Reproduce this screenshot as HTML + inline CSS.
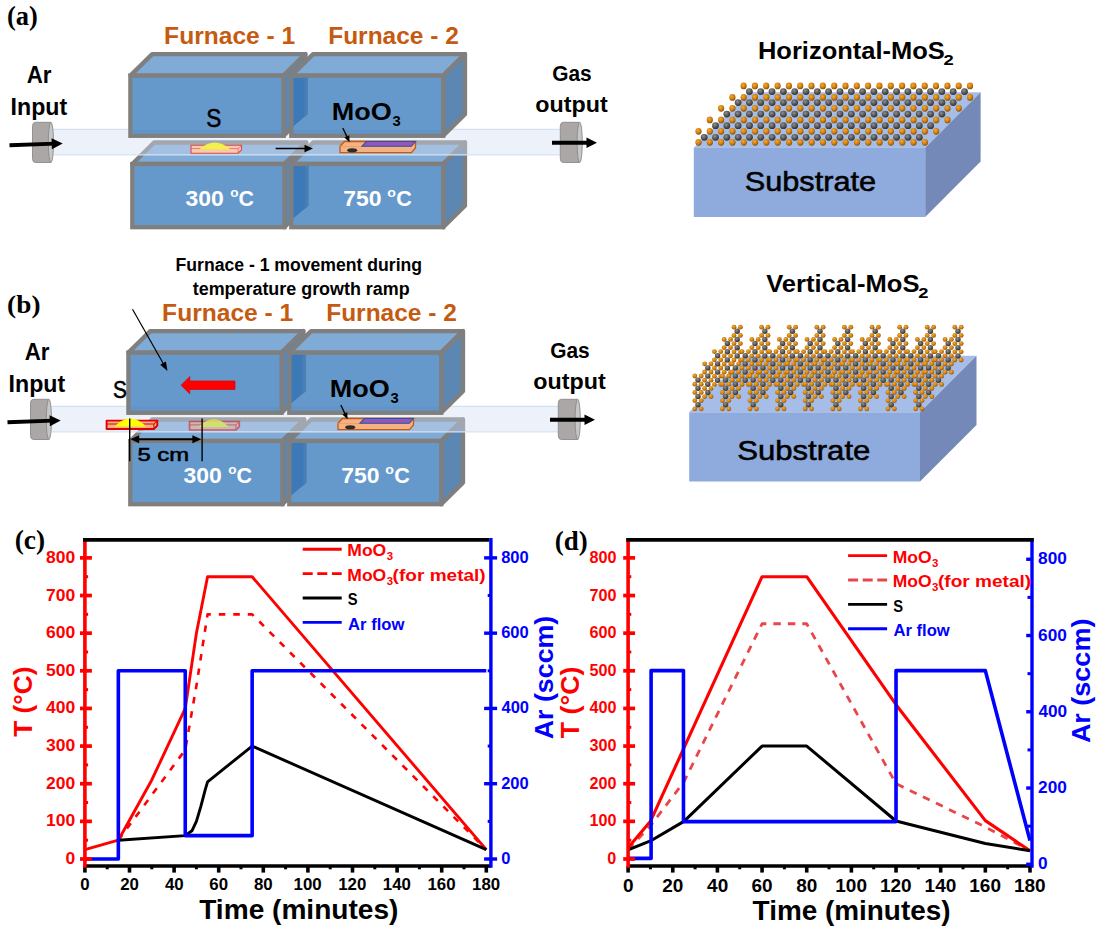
<!DOCTYPE html>
<html><head><meta charset="utf-8"><style>
html,body{margin:0;padding:0;background:#fff;overflow:hidden;}
svg{display:block;}
</style></head><body>
<svg width="1105" height="930" viewBox="0 0 1105 930">
<rect width="1105" height="930" fill="#fff"/>
<defs>
<radialGradient id="gO" cx="0.4" cy="0.35" r="0.65"><stop offset="0" stop-color="#f7aa2c"/><stop offset="0.6" stop-color="#cf7e0e"/><stop offset="1" stop-color="#8a5206"/></radialGradient>
<radialGradient id="gG" cx="0.4" cy="0.35" r="0.65"><stop offset="0" stop-color="#909090"/><stop offset="0.6" stop-color="#555"/><stop offset="1" stop-color="#303030"/></radialGradient>
</defs>
<polygon points="132.3,164 154.10000000000002,142.5 306.2,142.5 284.4,164" fill="#80abd6" stroke="#7f7f7f" stroke-width="4.3" stroke-linejoin="round"/>
<polygon points="284.4,164 306.2,142.5 306.2,205.7 284.4,227.2" fill="#5b87b2" stroke="#7f7f7f" stroke-width="4.3" stroke-linejoin="round"/>
<rect x="132.3" y="164" width="152.10" height="63.20" fill="#6699cb" stroke="#7f7f7f" stroke-width="4.3"/>
<polygon points="291.3,164 313.1,142.5 465.0,142.5 443.2,164" fill="#80abd6" stroke="#7f7f7f" stroke-width="4.3" stroke-linejoin="round"/>
<polygon points="443.2,164 465.0,142.5 465.0,205.7 443.2,227.2" fill="#5b87b2" stroke="#7f7f7f" stroke-width="4.3" stroke-linejoin="round"/>
<rect x="291.3" y="164" width="151.90" height="63.20" fill="#6699cb" stroke="#7f7f7f" stroke-width="4.3"/>
<polygon points="293.40,166.10 308.40,166.10 308.40,205.70 293.40,218.32" fill="#3d79b6"/>
<polygon points="305.40,166.10 308.40,166.10 308.40,205.70 305.40,208.70" fill="#4a7fb5"/>
<rect x="50" y="129.3" width="512" height="25.5" fill="#d4def2" fill-opacity="0.42"/>
<line x1="50" y1="129.3" x2="562" y2="129.3" stroke="#c9dbf0" stroke-width="1"/>
<line x1="50" y1="154.8" x2="562" y2="154.8" stroke="#d6e4f4" stroke-width="1.3"/>
<polygon points="340,146.3 344.5,141.5 415.5,141.5 415.5,148 411.5,152.7 340,152.7" fill="#f4b183" stroke="#c55a11" stroke-width="1.3"/>
<line x1="340" y1="146.5" x2="411.5" y2="146.5" stroke="#e9955a" stroke-width="0.6"/>
<polygon points="361.8,146.3 366.3,141.5 415.5,141.5 411.3,146.3" fill="#9356bd" stroke="#2f5597" stroke-width="1.1"/>
<ellipse cx="352.2" cy="150.2" rx="5" ry="2" fill="#2b2b2b"/>
<polygon points="130.4,75.6 152.20000000000002,54.099999999999994 305.40000000000003,54.099999999999994 283.6,75.6" fill="#80abd6" stroke="#7f7f7f" stroke-width="4.3" stroke-linejoin="round"/>
<polygon points="283.6,75.6 305.40000000000003,54.099999999999994 305.40000000000003,114.30000000000001 283.6,135.8" fill="#5b87b2" stroke="#7f7f7f" stroke-width="4.3" stroke-linejoin="round"/>
<rect x="130.4" y="75.6" width="153.20" height="60.20" fill="#6699cb" stroke="#7f7f7f" stroke-width="4.3"/>
<polygon points="291.3,75.6 313.1,54.099999999999994 465.0,54.099999999999994 443.2,75.6" fill="#80abd6" stroke="#7f7f7f" stroke-width="4.3" stroke-linejoin="round"/>
<polygon points="443.2,75.6 465.0,54.099999999999994 465.0,114.30000000000001 443.2,135.8" fill="#5b87b2" stroke="#7f7f7f" stroke-width="4.3" stroke-linejoin="round"/>
<rect x="291.3" y="75.6" width="151.90" height="60.20" fill="#6699cb" stroke="#7f7f7f" stroke-width="4.3"/>
<polygon points="293.40,77.70 307.60,77.70 307.60,114.30 293.40,126.13" fill="#3d79b6"/>
<polygon points="304.60,77.70 307.60,77.70 307.60,114.30 304.60,117.30" fill="#4a7fb5"/>
<rect x="132.5" y="129.5" width="149.0" height="4.1" fill="#5a90c8" fill-opacity="0.35"/>
<rect x="293.4" y="129.5" width="147.7" height="4.1" fill="#5a90c8" fill-opacity="0.35"/>
<path d="M35.5,122.3 L50.9,122.3 L50.9,162.5 L35.5,162.5 Q32.5,162.5 32.5,158.5 L32.5,126.3 Q32.5,122.3 35.5,122.3 Z" fill="#aba7a7" stroke="#8a8a8a" stroke-width="0.9"/>
<ellipse cx="50.9" cy="142.4" rx="2.6" ry="20.1" fill="#c8c6c6" stroke="#8a8a8a" stroke-width="0.9"/>
<path d="M563.3,122.3 L579.6999999999999,122.3 L579.6999999999999,162.5 L563.3,162.5 Q560.3,162.5 560.3,158.5 L560.3,126.3 Q560.3,122.3 563.3,122.3 Z" fill="#aba7a7" stroke="#8a8a8a" stroke-width="0.9"/>
<ellipse cx="579.6999999999999" cy="142.4" rx="2.6" ry="20.1" fill="#c8c6c6" stroke="#8a8a8a" stroke-width="0.9"/>
<line x1="9.50" y1="145.20" x2="55.00" y2="143.66" stroke="#000" stroke-width="3.9"/>
<polygon points="62.70,143.40 51.89,149.27 51.52,138.28" fill="#000"/>
<line x1="552.00" y1="142.80" x2="589.65" y2="142.80" stroke="#000" stroke-width="3.9"/>
<polygon points="597.00,142.80 586.50,148.05 586.50,137.55" fill="#000"/>
<text x="164.13" y="43.80" font-family="'Liberation Sans', sans-serif" font-size="23" font-weight="bold" fill="#c55a11" textLength="131.12" lengthAdjust="spacingAndGlyphs">Furnace - 1</text>
<text x="328.23" y="43.80" font-family="'Liberation Sans', sans-serif" font-size="23" font-weight="bold" fill="#c55a11" textLength="130.55" lengthAdjust="spacingAndGlyphs">Furnace - 2</text>
<text x="26.75" y="82.80" font-family="'Liberation Sans', sans-serif" font-size="23" font-weight="bold" fill="#000" textLength="24.75" lengthAdjust="spacingAndGlyphs">Ar</text>
<text x="10.61" y="115.10" font-family="'Liberation Sans', sans-serif" font-size="23" font-weight="bold" fill="#000" textLength="56.56" lengthAdjust="spacingAndGlyphs">Input</text>
<text x="552.26" y="81.30" font-family="'Liberation Sans', sans-serif" font-size="21.5" font-weight="bold" fill="#000" textLength="39.49" lengthAdjust="spacingAndGlyphs">Gas</text>
<text x="535.30" y="112.20" font-family="'Liberation Sans', sans-serif" font-size="21.5" font-weight="bold" fill="#000" textLength="72.37" lengthAdjust="spacingAndGlyphs">output</text>
<text x="331.78" y="119.90" font-family="'Liberation Sans', sans-serif" font-size="24.5" font-weight="bold" fill="#000" textLength="59.94" lengthAdjust="spacingAndGlyphs">MoO</text>
<text x="392.40" y="125.80" font-family="'Liberation Sans', sans-serif" font-size="14" font-weight="bold" fill="#000" textLength="8.23" lengthAdjust="spacingAndGlyphs">3</text>
<line x1="342.80" y1="128.00" x2="347.63" y2="138.10" stroke="#000" stroke-width="1.3"/>
<polygon points="349.60,142.20 344.31,137.53 349.27,135.15" fill="#000"/>
<text x="185.54" y="205.60" font-family="'Liberation Sans', sans-serif" font-size="22.5" font-weight="bold" fill="#fff" textLength="38.29" lengthAdjust="spacingAndGlyphs">300</text>
<text x="230.29" y="196.60" font-family="'Liberation Sans', sans-serif" font-size="13" font-weight="bold" fill="#fff" textLength="8.33" lengthAdjust="spacingAndGlyphs">o</text>
<text x="238.55" y="205.60" font-family="'Liberation Sans', sans-serif" font-size="22.5" font-weight="bold" fill="#fff" textLength="15.43" lengthAdjust="spacingAndGlyphs">C</text>
<text x="343.18" y="205.60" font-family="'Liberation Sans', sans-serif" font-size="22.5" font-weight="bold" fill="#fff" textLength="38.25" lengthAdjust="spacingAndGlyphs">750</text>
<text x="387.17" y="196.60" font-family="'Liberation Sans', sans-serif" font-size="13" font-weight="bold" fill="#fff" textLength="8.66" lengthAdjust="spacingAndGlyphs">o</text>
<text x="396.14" y="205.60" font-family="'Liberation Sans', sans-serif" font-size="22.5" font-weight="bold" fill="#fff" textLength="15.54" lengthAdjust="spacingAndGlyphs">C</text>
<g transform="translate(0,25) scale(1,1.08) translate(0,-25)">
<text x="6.94" y="25.00" font-family="'Liberation Serif', serif" font-size="25" font-weight="bold" fill="#000" textLength="30.79" lengthAdjust="spacingAndGlyphs">(a)</text>
</g>
<text x="206.30" y="126.50" font-family="'Liberation Sans', sans-serif" font-size="25" font-weight="normal" fill="#000" textLength="15.04" lengthAdjust="spacingAndGlyphs" stroke="#000" stroke-width="0.55">S</text>
<polygon points="191,145.3 241.5,145.3 241.5,149.89999999999998 238.2,153.2 191,153.2" fill="#f8cbad" stroke="#e0474c" stroke-width="1.1" stroke-linejoin="round"/>
<polyline points="191,148.60000000000002 238.2,148.60000000000002 241.5,145.3" fill="none" stroke="#e0474c" stroke-width="0.6050000000000001"/>
<line x1="238.2" y1="148.60000000000002" x2="238.2" y2="153.2" stroke="#e0474c" stroke-width="0.6050000000000001"/>
<path d="M199,149.6 Q214.8,135.5 230.7,149.6 Z" fill="#f2f04a"/>
<line x1="275.60" y1="148.50" x2="307.05" y2="148.50" stroke="#000" stroke-width="1.7"/>
<polygon points="313.00,148.50 304.50,152.25 304.50,144.75" fill="#000"/>
<polygon points="130.3,441 152.10000000000002,419.5 304.2,419.5 282.4,441" fill="#80abd6" stroke="#7f7f7f" stroke-width="4.3" stroke-linejoin="round"/>
<polygon points="282.4,441 304.2,419.5 304.2,482.7 282.4,504.2" fill="#5b87b2" stroke="#7f7f7f" stroke-width="4.3" stroke-linejoin="round"/>
<rect x="130.3" y="441" width="152.10" height="63.20" fill="#6699cb" stroke="#7f7f7f" stroke-width="4.3"/>
<polygon points="289.3,441 311.1,419.5 463.0,419.5 441.2,441" fill="#80abd6" stroke="#7f7f7f" stroke-width="4.3" stroke-linejoin="round"/>
<polygon points="441.2,441 463.0,419.5 463.0,482.7 441.2,504.2" fill="#5b87b2" stroke="#7f7f7f" stroke-width="4.3" stroke-linejoin="round"/>
<rect x="289.3" y="441" width="151.90" height="63.20" fill="#6699cb" stroke="#7f7f7f" stroke-width="4.3"/>
<polygon points="291.40,443.10 306.40,443.10 306.40,482.70 291.40,495.32" fill="#3d79b6"/>
<polygon points="303.40,443.10 306.40,443.10 306.40,482.70 303.40,485.70" fill="#4a7fb5"/>
<rect x="48" y="406.3" width="512" height="25.5" fill="#d4def2" fill-opacity="0.42"/>
<line x1="48" y1="406.3" x2="560" y2="406.3" stroke="#c9dbf0" stroke-width="1"/>
<line x1="48" y1="431.8" x2="560" y2="431.8" stroke="#d6e4f4" stroke-width="1.3"/>
<polygon points="338,423.3 342.5,418.5 413.5,418.5 413.5,425 409.5,429.7 338,429.7" fill="#f4b183" stroke="#c55a11" stroke-width="1.3"/>
<line x1="338" y1="423.5" x2="409.5" y2="423.5" stroke="#e9955a" stroke-width="0.6"/>
<polygon points="359.8,423.3 364.3,418.5 413.5,418.5 409.3,423.3" fill="#9356bd" stroke="#2f5597" stroke-width="1.1"/>
<ellipse cx="350.2" cy="427.2" rx="5" ry="2" fill="#2b2b2b"/>
<polygon points="128.4,352.6 150.20000000000002,331.1 303.40000000000003,331.1 281.6,352.6" fill="#80abd6" stroke="#7f7f7f" stroke-width="4.3" stroke-linejoin="round"/>
<polygon points="281.6,352.6 303.40000000000003,331.1 303.40000000000003,391.3 281.6,412.8" fill="#5b87b2" stroke="#7f7f7f" stroke-width="4.3" stroke-linejoin="round"/>
<rect x="128.4" y="352.6" width="153.20" height="60.20" fill="#6699cb" stroke="#7f7f7f" stroke-width="4.3"/>
<polygon points="289.3,352.6 311.1,331.1 463.0,331.1 441.2,352.6" fill="#80abd6" stroke="#7f7f7f" stroke-width="4.3" stroke-linejoin="round"/>
<polygon points="441.2,352.6 463.0,331.1 463.0,391.3 441.2,412.8" fill="#5b87b2" stroke="#7f7f7f" stroke-width="4.3" stroke-linejoin="round"/>
<rect x="289.3" y="352.6" width="151.90" height="60.20" fill="#6699cb" stroke="#7f7f7f" stroke-width="4.3"/>
<polygon points="291.40,354.70 305.60,354.70 305.60,391.30 291.40,403.13" fill="#3d79b6"/>
<polygon points="302.60,354.70 305.60,354.70 305.60,391.30 302.60,394.30" fill="#4a7fb5"/>
<rect x="130.5" y="406.5" width="149.0" height="4.1" fill="#5a90c8" fill-opacity="0.35"/>
<rect x="291.4" y="406.5" width="147.7" height="4.1" fill="#5a90c8" fill-opacity="0.35"/>
<path d="M33.5,399.3 L48.9,399.3 L48.9,439.5 L33.5,439.5 Q30.5,439.5 30.5,435.5 L30.5,403.3 Q30.5,399.3 33.5,399.3 Z" fill="#aba7a7" stroke="#8a8a8a" stroke-width="0.9"/>
<ellipse cx="48.9" cy="419.40000000000003" rx="2.6" ry="20.1" fill="#c8c6c6" stroke="#8a8a8a" stroke-width="0.9"/>
<path d="M561.3,399.3 L577.6999999999999,399.3 L577.6999999999999,439.5 L561.3,439.5 Q558.3,439.5 558.3,435.5 L558.3,403.3 Q558.3,399.3 561.3,399.3 Z" fill="#aba7a7" stroke="#8a8a8a" stroke-width="0.9"/>
<ellipse cx="577.6999999999999" cy="419.40000000000003" rx="2.6" ry="20.1" fill="#c8c6c6" stroke="#8a8a8a" stroke-width="0.9"/>
<line x1="7.50" y1="422.20" x2="53.00" y2="420.66" stroke="#000" stroke-width="3.9"/>
<polygon points="60.70,420.40 49.89,426.27 49.52,415.28" fill="#000"/>
<line x1="550.00" y1="419.80" x2="587.65" y2="419.80" stroke="#000" stroke-width="3.9"/>
<polygon points="595.00,419.80 584.50,425.05 584.50,414.55" fill="#000"/>
<text x="162.13" y="320.80" font-family="'Liberation Sans', sans-serif" font-size="23" font-weight="bold" fill="#c55a11" textLength="131.12" lengthAdjust="spacingAndGlyphs">Furnace - 1</text>
<text x="326.23" y="320.80" font-family="'Liberation Sans', sans-serif" font-size="23" font-weight="bold" fill="#c55a11" textLength="130.55" lengthAdjust="spacingAndGlyphs">Furnace - 2</text>
<text x="24.75" y="359.80" font-family="'Liberation Sans', sans-serif" font-size="23" font-weight="bold" fill="#000" textLength="24.75" lengthAdjust="spacingAndGlyphs">Ar</text>
<text x="8.61" y="392.10" font-family="'Liberation Sans', sans-serif" font-size="23" font-weight="bold" fill="#000" textLength="56.56" lengthAdjust="spacingAndGlyphs">Input</text>
<text x="550.26" y="358.30" font-family="'Liberation Sans', sans-serif" font-size="21.5" font-weight="bold" fill="#000" textLength="39.49" lengthAdjust="spacingAndGlyphs">Gas</text>
<text x="533.30" y="389.20" font-family="'Liberation Sans', sans-serif" font-size="21.5" font-weight="bold" fill="#000" textLength="72.37" lengthAdjust="spacingAndGlyphs">output</text>
<text x="329.78" y="396.90" font-family="'Liberation Sans', sans-serif" font-size="24.5" font-weight="bold" fill="#000" textLength="59.94" lengthAdjust="spacingAndGlyphs">MoO</text>
<text x="390.40" y="402.80" font-family="'Liberation Sans', sans-serif" font-size="14" font-weight="bold" fill="#000" textLength="8.23" lengthAdjust="spacingAndGlyphs">3</text>
<line x1="340.80" y1="405.00" x2="345.63" y2="415.10" stroke="#000" stroke-width="1.3"/>
<polygon points="347.60,419.20 342.31,414.53 347.27,412.15" fill="#000"/>
<text x="183.54" y="482.60" font-family="'Liberation Sans', sans-serif" font-size="22.5" font-weight="bold" fill="#fff" textLength="38.29" lengthAdjust="spacingAndGlyphs">300</text>
<text x="228.29" y="473.60" font-family="'Liberation Sans', sans-serif" font-size="13" font-weight="bold" fill="#fff" textLength="8.33" lengthAdjust="spacingAndGlyphs">o</text>
<text x="236.55" y="482.60" font-family="'Liberation Sans', sans-serif" font-size="22.5" font-weight="bold" fill="#fff" textLength="15.43" lengthAdjust="spacingAndGlyphs">C</text>
<text x="341.18" y="482.60" font-family="'Liberation Sans', sans-serif" font-size="22.5" font-weight="bold" fill="#fff" textLength="38.25" lengthAdjust="spacingAndGlyphs">750</text>
<text x="385.17" y="473.60" font-family="'Liberation Sans', sans-serif" font-size="13" font-weight="bold" fill="#fff" textLength="8.66" lengthAdjust="spacingAndGlyphs">o</text>
<text x="394.14" y="482.60" font-family="'Liberation Sans', sans-serif" font-size="22.5" font-weight="bold" fill="#fff" textLength="15.54" lengthAdjust="spacingAndGlyphs">C</text>
<g transform="translate(0,313) scale(1,1.04) translate(0,-313)">
<text x="7.11" y="313.00" font-family="'Liberation Serif', serif" font-size="25" font-weight="bold" fill="#000" textLength="33.37" lengthAdjust="spacingAndGlyphs">(b)</text>
</g>
<text x="175.54" y="271.20" font-family="'Liberation Sans', sans-serif" font-size="18" font-weight="bold" fill="#000" textLength="246.53" lengthAdjust="spacingAndGlyphs">Furnace - 1 movement during</text>
<text x="192.72" y="294.60" font-family="'Liberation Sans', sans-serif" font-size="18" font-weight="bold" fill="#000" textLength="216.91" lengthAdjust="spacingAndGlyphs">temperature growth ramp</text>
<text x="112.97" y="398.00" font-family="'Liberation Sans', sans-serif" font-size="23" font-weight="normal" fill="#000" textLength="13.91" lengthAdjust="spacingAndGlyphs" stroke="#000" stroke-width="0.55">S</text>
<line x1="132.50" y1="309.30" x2="164.39" y2="365.52" stroke="#000" stroke-width="1.2"/>
<polygon points="167.50,371.00 160.23,364.78 165.89,361.57" fill="#000"/>
<polygon points="181.1,385.2 189.8,376.5 189.8,380.9 235,380.9 235,389.5 189.8,389.5 189.8,393.9" fill="#ff0000" stroke="#d00000" stroke-width="0.6"/>
<polygon points="106.6,420.6 157.3,420.6 157.3,425.6 153.9,429 106.6,429" fill="#f4b183" stroke="#e00000" stroke-width="1.9" stroke-linejoin="round"/>
<polyline points="106.6,424.0 153.9,424.0 157.3,420.6" fill="none" stroke="#e00000" stroke-width="1.045"/>
<line x1="153.9" y1="424.0" x2="153.9" y2="429" stroke="#e00000" stroke-width="1.045"/>
<path d="M114.5,426.5 Q130.4,410.5 146.3,426.5 Z" fill="#ffff00"/>
<g opacity="0.5">
<polygon points="189.5,421.5 239.3,421.5 239.3,426.6 235.9,430 189.5,430" fill="#f4b183" stroke="#e00000" stroke-width="1.7" stroke-linejoin="round"/>
<polyline points="189.5,424.9 235.9,424.9 239.3,421.5" fill="none" stroke="#e00000" stroke-width="0.935"/>
<line x1="235.9" y1="424.9" x2="235.9" y2="430" stroke="#e00000" stroke-width="0.935"/>
<path d="M198.5,427 Q213.7,411.2 228.9,427 Z" fill="#ffff00"/></g>
<line x1="129.7" y1="418.5" x2="129.7" y2="461.2" stroke="#000" stroke-width="1.4"/>
<line x1="202.1" y1="418.5" x2="202.1" y2="461.2" stroke="#000" stroke-width="1.4"/>
<line x1="136" y1="439.2" x2="194" y2="439.2" stroke="#000" stroke-width="2"/>
<polygon points="130.4,439.2 139.2,435.2 139.2,443.2" fill="#000"/>
<polygon points="201.2,439.2 192.4,435.2 192.4,443.2" fill="#000"/>
<text x="137.45" y="461.20" font-family="'Liberation Sans', sans-serif" font-size="19" font-weight="normal" fill="#000" textLength="51.66" lengthAdjust="spacingAndGlyphs" stroke="#000" stroke-width="0.55">5 cm</text>
<text x="757.97" y="58.80" font-family="'Liberation Sans', sans-serif" font-size="23.5" font-weight="bold" fill="#000" textLength="186.77" lengthAdjust="spacingAndGlyphs">Horizontal-MoS</text>
<text x="943.45" y="64.50" font-family="'Liberation Sans', sans-serif" font-size="14" font-weight="bold" fill="#000" textLength="10.22" lengthAdjust="spacingAndGlyphs">2</text>
<polygon points="693.8,147.7 749.1999999999999,92.29999999999998 980.6,92.29999999999998 925.2,147.7" fill="#a6bde7"/>
<polygon points="925.2,147.7 980.6,92.29999999999998 980.6,161.6 925.2,217" fill="#7589b9"/>
<rect x="693.8" y="147.7" width="231.40" height="69.30" fill="#8faadc"/>
<text x="744.77" y="190.80" font-family="'Liberation Sans', sans-serif" font-size="28" font-weight="normal" fill="#000" textLength="131.34" lengthAdjust="spacingAndGlyphs" stroke="#000" stroke-width="0.55">Substrate</text>
<circle cx="749.4" cy="91.6" r="3.4" fill="url(#gG)"/>
<circle cx="760.7" cy="91.6" r="3.4" fill="url(#gG)"/>
<circle cx="772.0" cy="91.6" r="3.4" fill="url(#gG)"/>
<circle cx="783.4" cy="91.6" r="3.4" fill="url(#gG)"/>
<circle cx="794.7" cy="91.6" r="3.4" fill="url(#gG)"/>
<circle cx="806.0" cy="91.6" r="3.4" fill="url(#gG)"/>
<circle cx="817.3" cy="91.6" r="3.4" fill="url(#gG)"/>
<circle cx="828.6" cy="91.6" r="3.4" fill="url(#gG)"/>
<circle cx="840.0" cy="91.6" r="3.4" fill="url(#gG)"/>
<circle cx="851.3" cy="91.6" r="3.4" fill="url(#gG)"/>
<circle cx="862.6" cy="91.6" r="3.4" fill="url(#gG)"/>
<circle cx="873.9" cy="91.6" r="3.4" fill="url(#gG)"/>
<circle cx="885.2" cy="91.6" r="3.4" fill="url(#gG)"/>
<circle cx="896.6" cy="91.6" r="3.4" fill="url(#gG)"/>
<circle cx="907.9" cy="91.6" r="3.4" fill="url(#gG)"/>
<circle cx="919.2" cy="91.6" r="3.4" fill="url(#gG)"/>
<circle cx="930.5" cy="91.6" r="3.4" fill="url(#gG)"/>
<circle cx="941.8" cy="91.6" r="3.4" fill="url(#gG)"/>
<circle cx="953.2" cy="91.6" r="3.4" fill="url(#gG)"/>
<circle cx="964.5" cy="91.6" r="3.4" fill="url(#gG)"/>
<ellipse cx="743.6" cy="85.9" rx="3.1" ry="3.35" fill="url(#gO)"/>
<ellipse cx="754.9" cy="85.9" rx="3.1" ry="3.35" fill="url(#gO)"/>
<ellipse cx="766.2" cy="85.9" rx="3.1" ry="3.35" fill="url(#gO)"/>
<ellipse cx="777.6" cy="85.9" rx="3.1" ry="3.35" fill="url(#gO)"/>
<ellipse cx="788.9" cy="85.9" rx="3.1" ry="3.35" fill="url(#gO)"/>
<ellipse cx="800.2" cy="85.9" rx="3.1" ry="3.35" fill="url(#gO)"/>
<ellipse cx="811.5" cy="85.9" rx="3.1" ry="3.35" fill="url(#gO)"/>
<ellipse cx="822.8" cy="85.9" rx="3.1" ry="3.35" fill="url(#gO)"/>
<ellipse cx="834.2" cy="85.9" rx="3.1" ry="3.35" fill="url(#gO)"/>
<ellipse cx="845.5" cy="85.9" rx="3.1" ry="3.35" fill="url(#gO)"/>
<ellipse cx="856.8" cy="85.9" rx="3.1" ry="3.35" fill="url(#gO)"/>
<ellipse cx="868.1" cy="85.9" rx="3.1" ry="3.35" fill="url(#gO)"/>
<ellipse cx="879.4" cy="85.9" rx="3.1" ry="3.35" fill="url(#gO)"/>
<ellipse cx="890.8" cy="85.9" rx="3.1" ry="3.35" fill="url(#gO)"/>
<ellipse cx="902.1" cy="85.9" rx="3.1" ry="3.35" fill="url(#gO)"/>
<ellipse cx="913.4" cy="85.9" rx="3.1" ry="3.35" fill="url(#gO)"/>
<ellipse cx="924.7" cy="85.9" rx="3.1" ry="3.35" fill="url(#gO)"/>
<ellipse cx="936.0" cy="85.9" rx="3.1" ry="3.35" fill="url(#gO)"/>
<ellipse cx="947.4" cy="85.9" rx="3.1" ry="3.35" fill="url(#gO)"/>
<ellipse cx="958.7" cy="85.9" rx="3.1" ry="3.35" fill="url(#gO)"/>
<ellipse cx="970.0" cy="85.9" rx="3.1" ry="3.35" fill="url(#gO)"/>
<circle cx="738.1" cy="102.6" r="3.4" fill="url(#gG)"/>
<circle cx="749.4" cy="102.6" r="3.4" fill="url(#gG)"/>
<circle cx="760.7" cy="102.6" r="3.4" fill="url(#gG)"/>
<circle cx="772.1" cy="102.6" r="3.4" fill="url(#gG)"/>
<circle cx="783.4" cy="102.6" r="3.4" fill="url(#gG)"/>
<circle cx="794.7" cy="102.6" r="3.4" fill="url(#gG)"/>
<circle cx="806.0" cy="102.6" r="3.4" fill="url(#gG)"/>
<circle cx="817.3" cy="102.6" r="3.4" fill="url(#gG)"/>
<circle cx="828.7" cy="102.6" r="3.4" fill="url(#gG)"/>
<circle cx="840.0" cy="102.6" r="3.4" fill="url(#gG)"/>
<circle cx="851.3" cy="102.6" r="3.4" fill="url(#gG)"/>
<circle cx="862.6" cy="102.6" r="3.4" fill="url(#gG)"/>
<circle cx="873.9" cy="102.6" r="3.4" fill="url(#gG)"/>
<circle cx="885.3" cy="102.6" r="3.4" fill="url(#gG)"/>
<circle cx="896.6" cy="102.6" r="3.4" fill="url(#gG)"/>
<circle cx="907.9" cy="102.6" r="3.4" fill="url(#gG)"/>
<circle cx="919.2" cy="102.6" r="3.4" fill="url(#gG)"/>
<circle cx="930.5" cy="102.6" r="3.4" fill="url(#gG)"/>
<circle cx="941.9" cy="102.6" r="3.4" fill="url(#gG)"/>
<circle cx="953.2" cy="102.6" r="3.4" fill="url(#gG)"/>
<ellipse cx="732.4" cy="97.4" rx="3.1" ry="3.35" fill="url(#gO)"/>
<ellipse cx="743.7" cy="97.4" rx="3.1" ry="3.35" fill="url(#gO)"/>
<ellipse cx="755.0" cy="97.4" rx="3.1" ry="3.35" fill="url(#gO)"/>
<ellipse cx="766.4" cy="97.4" rx="3.1" ry="3.35" fill="url(#gO)"/>
<ellipse cx="777.7" cy="97.4" rx="3.1" ry="3.35" fill="url(#gO)"/>
<ellipse cx="789.0" cy="97.4" rx="3.1" ry="3.35" fill="url(#gO)"/>
<ellipse cx="800.3" cy="97.4" rx="3.1" ry="3.35" fill="url(#gO)"/>
<ellipse cx="811.6" cy="97.4" rx="3.1" ry="3.35" fill="url(#gO)"/>
<ellipse cx="823.0" cy="97.4" rx="3.1" ry="3.35" fill="url(#gO)"/>
<ellipse cx="834.3" cy="97.4" rx="3.1" ry="3.35" fill="url(#gO)"/>
<ellipse cx="845.6" cy="97.4" rx="3.1" ry="3.35" fill="url(#gO)"/>
<ellipse cx="856.9" cy="97.4" rx="3.1" ry="3.35" fill="url(#gO)"/>
<ellipse cx="868.2" cy="97.4" rx="3.1" ry="3.35" fill="url(#gO)"/>
<ellipse cx="879.6" cy="97.4" rx="3.1" ry="3.35" fill="url(#gO)"/>
<ellipse cx="890.9" cy="97.4" rx="3.1" ry="3.35" fill="url(#gO)"/>
<ellipse cx="902.2" cy="97.4" rx="3.1" ry="3.35" fill="url(#gO)"/>
<ellipse cx="913.5" cy="97.4" rx="3.1" ry="3.35" fill="url(#gO)"/>
<ellipse cx="924.8" cy="97.4" rx="3.1" ry="3.35" fill="url(#gO)"/>
<ellipse cx="936.2" cy="97.4" rx="3.1" ry="3.35" fill="url(#gO)"/>
<ellipse cx="947.5" cy="97.4" rx="3.1" ry="3.35" fill="url(#gO)"/>
<ellipse cx="958.8" cy="97.4" rx="3.1" ry="3.35" fill="url(#gO)"/>
<ellipse cx="970.1" cy="97.4" rx="3.1" ry="3.35" fill="url(#gO)"/>
<circle cx="726.8" cy="114.1" r="3.4" fill="url(#gG)"/>
<circle cx="738.1" cy="114.1" r="3.4" fill="url(#gG)"/>
<circle cx="749.4" cy="114.1" r="3.4" fill="url(#gG)"/>
<circle cx="760.8" cy="114.1" r="3.4" fill="url(#gG)"/>
<circle cx="772.1" cy="114.1" r="3.4" fill="url(#gG)"/>
<circle cx="783.4" cy="114.1" r="3.4" fill="url(#gG)"/>
<circle cx="794.7" cy="114.1" r="3.4" fill="url(#gG)"/>
<circle cx="806.0" cy="114.1" r="3.4" fill="url(#gG)"/>
<circle cx="817.4" cy="114.1" r="3.4" fill="url(#gG)"/>
<circle cx="828.7" cy="114.1" r="3.4" fill="url(#gG)"/>
<circle cx="840.0" cy="114.1" r="3.4" fill="url(#gG)"/>
<circle cx="851.3" cy="114.1" r="3.4" fill="url(#gG)"/>
<circle cx="862.6" cy="114.1" r="3.4" fill="url(#gG)"/>
<circle cx="874.0" cy="114.1" r="3.4" fill="url(#gG)"/>
<circle cx="885.3" cy="114.1" r="3.4" fill="url(#gG)"/>
<circle cx="896.6" cy="114.1" r="3.4" fill="url(#gG)"/>
<circle cx="907.9" cy="114.1" r="3.4" fill="url(#gG)"/>
<circle cx="919.2" cy="114.1" r="3.4" fill="url(#gG)"/>
<circle cx="930.6" cy="114.1" r="3.4" fill="url(#gG)"/>
<circle cx="941.9" cy="114.1" r="3.4" fill="url(#gG)"/>
<ellipse cx="721.1" cy="108.3" rx="3.1" ry="3.35" fill="url(#gO)"/>
<ellipse cx="732.4" cy="108.3" rx="3.1" ry="3.35" fill="url(#gO)"/>
<ellipse cx="743.7" cy="108.3" rx="3.1" ry="3.35" fill="url(#gO)"/>
<ellipse cx="755.1" cy="108.3" rx="3.1" ry="3.35" fill="url(#gO)"/>
<ellipse cx="766.4" cy="108.3" rx="3.1" ry="3.35" fill="url(#gO)"/>
<ellipse cx="777.7" cy="108.3" rx="3.1" ry="3.35" fill="url(#gO)"/>
<ellipse cx="789.0" cy="108.3" rx="3.1" ry="3.35" fill="url(#gO)"/>
<ellipse cx="800.3" cy="108.3" rx="3.1" ry="3.35" fill="url(#gO)"/>
<ellipse cx="811.7" cy="108.3" rx="3.1" ry="3.35" fill="url(#gO)"/>
<ellipse cx="823.0" cy="108.3" rx="3.1" ry="3.35" fill="url(#gO)"/>
<ellipse cx="834.3" cy="108.3" rx="3.1" ry="3.35" fill="url(#gO)"/>
<ellipse cx="845.6" cy="108.3" rx="3.1" ry="3.35" fill="url(#gO)"/>
<ellipse cx="856.9" cy="108.3" rx="3.1" ry="3.35" fill="url(#gO)"/>
<ellipse cx="868.3" cy="108.3" rx="3.1" ry="3.35" fill="url(#gO)"/>
<ellipse cx="879.6" cy="108.3" rx="3.1" ry="3.35" fill="url(#gO)"/>
<ellipse cx="890.9" cy="108.3" rx="3.1" ry="3.35" fill="url(#gO)"/>
<ellipse cx="902.2" cy="108.3" rx="3.1" ry="3.35" fill="url(#gO)"/>
<ellipse cx="913.5" cy="108.3" rx="3.1" ry="3.35" fill="url(#gO)"/>
<ellipse cx="924.9" cy="108.3" rx="3.1" ry="3.35" fill="url(#gO)"/>
<ellipse cx="936.2" cy="108.3" rx="3.1" ry="3.35" fill="url(#gO)"/>
<ellipse cx="947.5" cy="108.3" rx="3.1" ry="3.35" fill="url(#gO)"/>
<ellipse cx="958.8" cy="108.3" rx="3.1" ry="3.35" fill="url(#gO)"/>
<circle cx="715.5" cy="125.7" r="3.4" fill="url(#gG)"/>
<circle cx="726.8" cy="125.7" r="3.4" fill="url(#gG)"/>
<circle cx="738.1" cy="125.7" r="3.4" fill="url(#gG)"/>
<circle cx="749.5" cy="125.7" r="3.4" fill="url(#gG)"/>
<circle cx="760.8" cy="125.7" r="3.4" fill="url(#gG)"/>
<circle cx="772.1" cy="125.7" r="3.4" fill="url(#gG)"/>
<circle cx="783.4" cy="125.7" r="3.4" fill="url(#gG)"/>
<circle cx="794.7" cy="125.7" r="3.4" fill="url(#gG)"/>
<circle cx="806.1" cy="125.7" r="3.4" fill="url(#gG)"/>
<circle cx="817.4" cy="125.7" r="3.4" fill="url(#gG)"/>
<circle cx="828.7" cy="125.7" r="3.4" fill="url(#gG)"/>
<circle cx="840.0" cy="125.7" r="3.4" fill="url(#gG)"/>
<circle cx="851.3" cy="125.7" r="3.4" fill="url(#gG)"/>
<circle cx="862.7" cy="125.7" r="3.4" fill="url(#gG)"/>
<circle cx="874.0" cy="125.7" r="3.4" fill="url(#gG)"/>
<circle cx="885.3" cy="125.7" r="3.4" fill="url(#gG)"/>
<circle cx="896.6" cy="125.7" r="3.4" fill="url(#gG)"/>
<circle cx="907.9" cy="125.7" r="3.4" fill="url(#gG)"/>
<circle cx="919.3" cy="125.7" r="3.4" fill="url(#gG)"/>
<circle cx="930.6" cy="125.7" r="3.4" fill="url(#gG)"/>
<ellipse cx="709.8" cy="119.9" rx="3.1" ry="3.35" fill="url(#gO)"/>
<ellipse cx="721.1" cy="119.9" rx="3.1" ry="3.35" fill="url(#gO)"/>
<ellipse cx="732.4" cy="119.9" rx="3.1" ry="3.35" fill="url(#gO)"/>
<ellipse cx="743.8" cy="119.9" rx="3.1" ry="3.35" fill="url(#gO)"/>
<ellipse cx="755.1" cy="119.9" rx="3.1" ry="3.35" fill="url(#gO)"/>
<ellipse cx="766.4" cy="119.9" rx="3.1" ry="3.35" fill="url(#gO)"/>
<ellipse cx="777.7" cy="119.9" rx="3.1" ry="3.35" fill="url(#gO)"/>
<ellipse cx="789.0" cy="119.9" rx="3.1" ry="3.35" fill="url(#gO)"/>
<ellipse cx="800.4" cy="119.9" rx="3.1" ry="3.35" fill="url(#gO)"/>
<ellipse cx="811.7" cy="119.9" rx="3.1" ry="3.35" fill="url(#gO)"/>
<ellipse cx="823.0" cy="119.9" rx="3.1" ry="3.35" fill="url(#gO)"/>
<ellipse cx="834.3" cy="119.9" rx="3.1" ry="3.35" fill="url(#gO)"/>
<ellipse cx="845.6" cy="119.9" rx="3.1" ry="3.35" fill="url(#gO)"/>
<ellipse cx="857.0" cy="119.9" rx="3.1" ry="3.35" fill="url(#gO)"/>
<ellipse cx="868.3" cy="119.9" rx="3.1" ry="3.35" fill="url(#gO)"/>
<ellipse cx="879.6" cy="119.9" rx="3.1" ry="3.35" fill="url(#gO)"/>
<ellipse cx="890.9" cy="119.9" rx="3.1" ry="3.35" fill="url(#gO)"/>
<ellipse cx="902.2" cy="119.9" rx="3.1" ry="3.35" fill="url(#gO)"/>
<ellipse cx="913.6" cy="119.9" rx="3.1" ry="3.35" fill="url(#gO)"/>
<ellipse cx="924.9" cy="119.9" rx="3.1" ry="3.35" fill="url(#gO)"/>
<ellipse cx="936.2" cy="119.9" rx="3.1" ry="3.35" fill="url(#gO)"/>
<ellipse cx="947.5" cy="119.9" rx="3.1" ry="3.35" fill="url(#gO)"/>
<circle cx="704.2" cy="137.3" r="3.4" fill="url(#gG)"/>
<circle cx="715.5" cy="137.3" r="3.4" fill="url(#gG)"/>
<circle cx="726.8" cy="137.3" r="3.4" fill="url(#gG)"/>
<circle cx="738.2" cy="137.3" r="3.4" fill="url(#gG)"/>
<circle cx="749.5" cy="137.3" r="3.4" fill="url(#gG)"/>
<circle cx="760.8" cy="137.3" r="3.4" fill="url(#gG)"/>
<circle cx="772.1" cy="137.3" r="3.4" fill="url(#gG)"/>
<circle cx="783.4" cy="137.3" r="3.4" fill="url(#gG)"/>
<circle cx="794.8" cy="137.3" r="3.4" fill="url(#gG)"/>
<circle cx="806.1" cy="137.3" r="3.4" fill="url(#gG)"/>
<circle cx="817.4" cy="137.3" r="3.4" fill="url(#gG)"/>
<circle cx="828.7" cy="137.3" r="3.4" fill="url(#gG)"/>
<circle cx="840.0" cy="137.3" r="3.4" fill="url(#gG)"/>
<circle cx="851.4" cy="137.3" r="3.4" fill="url(#gG)"/>
<circle cx="862.7" cy="137.3" r="3.4" fill="url(#gG)"/>
<circle cx="874.0" cy="137.3" r="3.4" fill="url(#gG)"/>
<circle cx="885.3" cy="137.3" r="3.4" fill="url(#gG)"/>
<circle cx="896.6" cy="137.3" r="3.4" fill="url(#gG)"/>
<circle cx="908.0" cy="137.3" r="3.4" fill="url(#gG)"/>
<circle cx="919.3" cy="137.3" r="3.4" fill="url(#gG)"/>
<ellipse cx="698.5" cy="131.3" rx="3.1" ry="3.35" fill="url(#gO)"/>
<ellipse cx="709.8" cy="131.3" rx="3.1" ry="3.35" fill="url(#gO)"/>
<ellipse cx="721.1" cy="131.3" rx="3.1" ry="3.35" fill="url(#gO)"/>
<ellipse cx="732.5" cy="131.3" rx="3.1" ry="3.35" fill="url(#gO)"/>
<ellipse cx="743.8" cy="131.3" rx="3.1" ry="3.35" fill="url(#gO)"/>
<ellipse cx="755.1" cy="131.3" rx="3.1" ry="3.35" fill="url(#gO)"/>
<ellipse cx="766.4" cy="131.3" rx="3.1" ry="3.35" fill="url(#gO)"/>
<ellipse cx="777.7" cy="131.3" rx="3.1" ry="3.35" fill="url(#gO)"/>
<ellipse cx="789.1" cy="131.3" rx="3.1" ry="3.35" fill="url(#gO)"/>
<ellipse cx="800.4" cy="131.3" rx="3.1" ry="3.35" fill="url(#gO)"/>
<ellipse cx="811.7" cy="131.3" rx="3.1" ry="3.35" fill="url(#gO)"/>
<ellipse cx="823.0" cy="131.3" rx="3.1" ry="3.35" fill="url(#gO)"/>
<ellipse cx="834.3" cy="131.3" rx="3.1" ry="3.35" fill="url(#gO)"/>
<ellipse cx="845.7" cy="131.3" rx="3.1" ry="3.35" fill="url(#gO)"/>
<ellipse cx="857.0" cy="131.3" rx="3.1" ry="3.35" fill="url(#gO)"/>
<ellipse cx="868.3" cy="131.3" rx="3.1" ry="3.35" fill="url(#gO)"/>
<ellipse cx="879.6" cy="131.3" rx="3.1" ry="3.35" fill="url(#gO)"/>
<ellipse cx="890.9" cy="131.3" rx="3.1" ry="3.35" fill="url(#gO)"/>
<ellipse cx="902.3" cy="131.3" rx="3.1" ry="3.35" fill="url(#gO)"/>
<ellipse cx="913.6" cy="131.3" rx="3.1" ry="3.35" fill="url(#gO)"/>
<ellipse cx="924.9" cy="131.3" rx="3.1" ry="3.35" fill="url(#gO)"/>
<ellipse cx="936.2" cy="131.3" rx="3.1" ry="3.35" fill="url(#gO)"/>
<ellipse cx="698.5" cy="142.3" rx="3.1" ry="3.35" fill="url(#gO)"/>
<ellipse cx="709.8" cy="142.3" rx="3.1" ry="3.35" fill="url(#gO)"/>
<ellipse cx="721.1" cy="142.3" rx="3.1" ry="3.35" fill="url(#gO)"/>
<ellipse cx="732.5" cy="142.3" rx="3.1" ry="3.35" fill="url(#gO)"/>
<ellipse cx="743.8" cy="142.3" rx="3.1" ry="3.35" fill="url(#gO)"/>
<ellipse cx="755.1" cy="142.3" rx="3.1" ry="3.35" fill="url(#gO)"/>
<ellipse cx="766.4" cy="142.3" rx="3.1" ry="3.35" fill="url(#gO)"/>
<ellipse cx="777.7" cy="142.3" rx="3.1" ry="3.35" fill="url(#gO)"/>
<ellipse cx="789.1" cy="142.3" rx="3.1" ry="3.35" fill="url(#gO)"/>
<ellipse cx="800.4" cy="142.3" rx="3.1" ry="3.35" fill="url(#gO)"/>
<ellipse cx="811.7" cy="142.3" rx="3.1" ry="3.35" fill="url(#gO)"/>
<ellipse cx="823.0" cy="142.3" rx="3.1" ry="3.35" fill="url(#gO)"/>
<ellipse cx="834.3" cy="142.3" rx="3.1" ry="3.35" fill="url(#gO)"/>
<ellipse cx="845.7" cy="142.3" rx="3.1" ry="3.35" fill="url(#gO)"/>
<ellipse cx="857.0" cy="142.3" rx="3.1" ry="3.35" fill="url(#gO)"/>
<ellipse cx="868.3" cy="142.3" rx="3.1" ry="3.35" fill="url(#gO)"/>
<ellipse cx="879.6" cy="142.3" rx="3.1" ry="3.35" fill="url(#gO)"/>
<ellipse cx="890.9" cy="142.3" rx="3.1" ry="3.35" fill="url(#gO)"/>
<ellipse cx="902.3" cy="142.3" rx="3.1" ry="3.35" fill="url(#gO)"/>
<ellipse cx="913.6" cy="142.3" rx="3.1" ry="3.35" fill="url(#gO)"/>
<ellipse cx="924.9" cy="142.3" rx="3.1" ry="3.35" fill="url(#gO)"/>
<text x="766.20" y="292.30" font-family="'Liberation Sans', sans-serif" font-size="23.5" font-weight="bold" fill="#000" textLength="153.24" lengthAdjust="spacingAndGlyphs">Vertical-MoS</text>
<text x="918.15" y="298.00" font-family="'Liberation Sans', sans-serif" font-size="14" font-weight="bold" fill="#000" textLength="10.22" lengthAdjust="spacingAndGlyphs">2</text>
<polygon points="689.2,412.3 745.7,355.8 976.5,355.8 920,412.3" fill="#a6bde7"/>
<polygon points="920,412.3 976.5,355.8 976.5,425.0 920,481.5" fill="#7589b9"/>
<rect x="689.2" y="412.3" width="230.80" height="69.20" fill="#8faadc"/>
<text x="737.26" y="460.00" font-family="'Liberation Sans', sans-serif" font-size="28" font-weight="normal" fill="#000" textLength="133.07" lengthAdjust="spacingAndGlyphs" stroke="#000" stroke-width="0.55">Substrate</text>
<circle cx="737.2" cy="355.9" r="2.7" fill="url(#gG)"/>
<circle cx="734.0" cy="360.0" r="2.4" fill="url(#gO)"/>
<circle cx="740.4" cy="360.0" r="2.4" fill="url(#gO)"/>
<circle cx="737.2" cy="347.7" r="2.7" fill="url(#gG)"/>
<circle cx="734.0" cy="351.8" r="2.4" fill="url(#gO)"/>
<circle cx="740.4" cy="351.8" r="2.4" fill="url(#gO)"/>
<circle cx="737.2" cy="339.5" r="2.7" fill="url(#gG)"/>
<circle cx="734.0" cy="343.6" r="2.4" fill="url(#gO)"/>
<circle cx="740.4" cy="343.6" r="2.4" fill="url(#gO)"/>
<circle cx="737.2" cy="331.3" r="2.7" fill="url(#gG)"/>
<circle cx="734.0" cy="335.4" r="2.4" fill="url(#gO)"/>
<circle cx="740.4" cy="335.4" r="2.4" fill="url(#gO)"/>
<circle cx="734.0" cy="327.2" r="2.4" fill="url(#gO)"/>
<circle cx="740.4" cy="327.2" r="2.4" fill="url(#gO)"/>
<circle cx="764.8" cy="355.9" r="2.7" fill="url(#gG)"/>
<circle cx="761.6" cy="360.0" r="2.4" fill="url(#gO)"/>
<circle cx="768.0" cy="360.0" r="2.4" fill="url(#gO)"/>
<circle cx="764.8" cy="347.7" r="2.7" fill="url(#gG)"/>
<circle cx="761.6" cy="351.8" r="2.4" fill="url(#gO)"/>
<circle cx="768.0" cy="351.8" r="2.4" fill="url(#gO)"/>
<circle cx="764.8" cy="339.5" r="2.7" fill="url(#gG)"/>
<circle cx="761.6" cy="343.6" r="2.4" fill="url(#gO)"/>
<circle cx="768.0" cy="343.6" r="2.4" fill="url(#gO)"/>
<circle cx="764.8" cy="331.3" r="2.7" fill="url(#gG)"/>
<circle cx="761.6" cy="335.4" r="2.4" fill="url(#gO)"/>
<circle cx="768.0" cy="335.4" r="2.4" fill="url(#gO)"/>
<circle cx="761.6" cy="327.2" r="2.4" fill="url(#gO)"/>
<circle cx="768.0" cy="327.2" r="2.4" fill="url(#gO)"/>
<circle cx="792.4" cy="355.9" r="2.7" fill="url(#gG)"/>
<circle cx="789.2" cy="360.0" r="2.4" fill="url(#gO)"/>
<circle cx="795.6" cy="360.0" r="2.4" fill="url(#gO)"/>
<circle cx="792.4" cy="347.7" r="2.7" fill="url(#gG)"/>
<circle cx="789.2" cy="351.8" r="2.4" fill="url(#gO)"/>
<circle cx="795.6" cy="351.8" r="2.4" fill="url(#gO)"/>
<circle cx="792.4" cy="339.5" r="2.7" fill="url(#gG)"/>
<circle cx="789.2" cy="343.6" r="2.4" fill="url(#gO)"/>
<circle cx="795.6" cy="343.6" r="2.4" fill="url(#gO)"/>
<circle cx="792.4" cy="331.3" r="2.7" fill="url(#gG)"/>
<circle cx="789.2" cy="335.4" r="2.4" fill="url(#gO)"/>
<circle cx="795.6" cy="335.4" r="2.4" fill="url(#gO)"/>
<circle cx="789.2" cy="327.2" r="2.4" fill="url(#gO)"/>
<circle cx="795.6" cy="327.2" r="2.4" fill="url(#gO)"/>
<circle cx="820.0" cy="355.9" r="2.7" fill="url(#gG)"/>
<circle cx="816.8" cy="360.0" r="2.4" fill="url(#gO)"/>
<circle cx="823.2" cy="360.0" r="2.4" fill="url(#gO)"/>
<circle cx="820.0" cy="347.7" r="2.7" fill="url(#gG)"/>
<circle cx="816.8" cy="351.8" r="2.4" fill="url(#gO)"/>
<circle cx="823.2" cy="351.8" r="2.4" fill="url(#gO)"/>
<circle cx="820.0" cy="339.5" r="2.7" fill="url(#gG)"/>
<circle cx="816.8" cy="343.6" r="2.4" fill="url(#gO)"/>
<circle cx="823.2" cy="343.6" r="2.4" fill="url(#gO)"/>
<circle cx="820.0" cy="331.3" r="2.7" fill="url(#gG)"/>
<circle cx="816.8" cy="335.4" r="2.4" fill="url(#gO)"/>
<circle cx="823.2" cy="335.4" r="2.4" fill="url(#gO)"/>
<circle cx="816.8" cy="327.2" r="2.4" fill="url(#gO)"/>
<circle cx="823.2" cy="327.2" r="2.4" fill="url(#gO)"/>
<circle cx="847.6" cy="355.9" r="2.7" fill="url(#gG)"/>
<circle cx="844.4" cy="360.0" r="2.4" fill="url(#gO)"/>
<circle cx="850.8" cy="360.0" r="2.4" fill="url(#gO)"/>
<circle cx="847.6" cy="347.7" r="2.7" fill="url(#gG)"/>
<circle cx="844.4" cy="351.8" r="2.4" fill="url(#gO)"/>
<circle cx="850.8" cy="351.8" r="2.4" fill="url(#gO)"/>
<circle cx="847.6" cy="339.5" r="2.7" fill="url(#gG)"/>
<circle cx="844.4" cy="343.6" r="2.4" fill="url(#gO)"/>
<circle cx="850.8" cy="343.6" r="2.4" fill="url(#gO)"/>
<circle cx="847.6" cy="331.3" r="2.7" fill="url(#gG)"/>
<circle cx="844.4" cy="335.4" r="2.4" fill="url(#gO)"/>
<circle cx="850.8" cy="335.4" r="2.4" fill="url(#gO)"/>
<circle cx="844.4" cy="327.2" r="2.4" fill="url(#gO)"/>
<circle cx="850.8" cy="327.2" r="2.4" fill="url(#gO)"/>
<circle cx="875.2" cy="355.9" r="2.7" fill="url(#gG)"/>
<circle cx="872.0" cy="360.0" r="2.4" fill="url(#gO)"/>
<circle cx="878.4" cy="360.0" r="2.4" fill="url(#gO)"/>
<circle cx="875.2" cy="347.7" r="2.7" fill="url(#gG)"/>
<circle cx="872.0" cy="351.8" r="2.4" fill="url(#gO)"/>
<circle cx="878.4" cy="351.8" r="2.4" fill="url(#gO)"/>
<circle cx="875.2" cy="339.5" r="2.7" fill="url(#gG)"/>
<circle cx="872.0" cy="343.6" r="2.4" fill="url(#gO)"/>
<circle cx="878.4" cy="343.6" r="2.4" fill="url(#gO)"/>
<circle cx="875.2" cy="331.3" r="2.7" fill="url(#gG)"/>
<circle cx="872.0" cy="335.4" r="2.4" fill="url(#gO)"/>
<circle cx="878.4" cy="335.4" r="2.4" fill="url(#gO)"/>
<circle cx="872.0" cy="327.2" r="2.4" fill="url(#gO)"/>
<circle cx="878.4" cy="327.2" r="2.4" fill="url(#gO)"/>
<circle cx="902.8" cy="355.9" r="2.7" fill="url(#gG)"/>
<circle cx="899.6" cy="360.0" r="2.4" fill="url(#gO)"/>
<circle cx="906.0" cy="360.0" r="2.4" fill="url(#gO)"/>
<circle cx="902.8" cy="347.7" r="2.7" fill="url(#gG)"/>
<circle cx="899.6" cy="351.8" r="2.4" fill="url(#gO)"/>
<circle cx="906.0" cy="351.8" r="2.4" fill="url(#gO)"/>
<circle cx="902.8" cy="339.5" r="2.7" fill="url(#gG)"/>
<circle cx="899.6" cy="343.6" r="2.4" fill="url(#gO)"/>
<circle cx="906.0" cy="343.6" r="2.4" fill="url(#gO)"/>
<circle cx="902.8" cy="331.3" r="2.7" fill="url(#gG)"/>
<circle cx="899.6" cy="335.4" r="2.4" fill="url(#gO)"/>
<circle cx="906.0" cy="335.4" r="2.4" fill="url(#gO)"/>
<circle cx="899.6" cy="327.2" r="2.4" fill="url(#gO)"/>
<circle cx="906.0" cy="327.2" r="2.4" fill="url(#gO)"/>
<circle cx="930.4" cy="355.9" r="2.7" fill="url(#gG)"/>
<circle cx="927.2" cy="360.0" r="2.4" fill="url(#gO)"/>
<circle cx="933.6" cy="360.0" r="2.4" fill="url(#gO)"/>
<circle cx="930.4" cy="347.7" r="2.7" fill="url(#gG)"/>
<circle cx="927.2" cy="351.8" r="2.4" fill="url(#gO)"/>
<circle cx="933.6" cy="351.8" r="2.4" fill="url(#gO)"/>
<circle cx="930.4" cy="339.5" r="2.7" fill="url(#gG)"/>
<circle cx="927.2" cy="343.6" r="2.4" fill="url(#gO)"/>
<circle cx="933.6" cy="343.6" r="2.4" fill="url(#gO)"/>
<circle cx="930.4" cy="331.3" r="2.7" fill="url(#gG)"/>
<circle cx="927.2" cy="335.4" r="2.4" fill="url(#gO)"/>
<circle cx="933.6" cy="335.4" r="2.4" fill="url(#gO)"/>
<circle cx="927.2" cy="327.2" r="2.4" fill="url(#gO)"/>
<circle cx="933.6" cy="327.2" r="2.4" fill="url(#gO)"/>
<circle cx="958.0" cy="355.9" r="2.7" fill="url(#gG)"/>
<circle cx="954.8" cy="360.0" r="2.4" fill="url(#gO)"/>
<circle cx="961.2" cy="360.0" r="2.4" fill="url(#gO)"/>
<circle cx="958.0" cy="347.7" r="2.7" fill="url(#gG)"/>
<circle cx="954.8" cy="351.8" r="2.4" fill="url(#gO)"/>
<circle cx="961.2" cy="351.8" r="2.4" fill="url(#gO)"/>
<circle cx="958.0" cy="339.5" r="2.7" fill="url(#gG)"/>
<circle cx="954.8" cy="343.6" r="2.4" fill="url(#gO)"/>
<circle cx="961.2" cy="343.6" r="2.4" fill="url(#gO)"/>
<circle cx="958.0" cy="331.3" r="2.7" fill="url(#gG)"/>
<circle cx="954.8" cy="335.4" r="2.4" fill="url(#gO)"/>
<circle cx="961.2" cy="335.4" r="2.4" fill="url(#gO)"/>
<circle cx="954.8" cy="327.2" r="2.4" fill="url(#gO)"/>
<circle cx="961.2" cy="327.2" r="2.4" fill="url(#gO)"/>
<circle cx="727.4" cy="368.1" r="2.7" fill="url(#gG)"/>
<circle cx="724.2" cy="372.2" r="2.4" fill="url(#gO)"/>
<circle cx="730.6" cy="372.2" r="2.4" fill="url(#gO)"/>
<circle cx="727.4" cy="359.9" r="2.7" fill="url(#gG)"/>
<circle cx="724.2" cy="364.0" r="2.4" fill="url(#gO)"/>
<circle cx="730.6" cy="364.0" r="2.4" fill="url(#gO)"/>
<circle cx="727.4" cy="351.7" r="2.7" fill="url(#gG)"/>
<circle cx="724.2" cy="355.8" r="2.4" fill="url(#gO)"/>
<circle cx="730.6" cy="355.8" r="2.4" fill="url(#gO)"/>
<circle cx="727.4" cy="343.5" r="2.7" fill="url(#gG)"/>
<circle cx="724.2" cy="347.6" r="2.4" fill="url(#gO)"/>
<circle cx="730.6" cy="347.6" r="2.4" fill="url(#gO)"/>
<circle cx="724.2" cy="339.4" r="2.4" fill="url(#gO)"/>
<circle cx="730.6" cy="339.4" r="2.4" fill="url(#gO)"/>
<circle cx="755.0" cy="368.1" r="2.7" fill="url(#gG)"/>
<circle cx="751.8" cy="372.2" r="2.4" fill="url(#gO)"/>
<circle cx="758.2" cy="372.2" r="2.4" fill="url(#gO)"/>
<circle cx="755.0" cy="359.9" r="2.7" fill="url(#gG)"/>
<circle cx="751.8" cy="364.0" r="2.4" fill="url(#gO)"/>
<circle cx="758.2" cy="364.0" r="2.4" fill="url(#gO)"/>
<circle cx="755.0" cy="351.7" r="2.7" fill="url(#gG)"/>
<circle cx="751.8" cy="355.8" r="2.4" fill="url(#gO)"/>
<circle cx="758.2" cy="355.8" r="2.4" fill="url(#gO)"/>
<circle cx="755.0" cy="343.5" r="2.7" fill="url(#gG)"/>
<circle cx="751.8" cy="347.6" r="2.4" fill="url(#gO)"/>
<circle cx="758.2" cy="347.6" r="2.4" fill="url(#gO)"/>
<circle cx="751.8" cy="339.4" r="2.4" fill="url(#gO)"/>
<circle cx="758.2" cy="339.4" r="2.4" fill="url(#gO)"/>
<circle cx="782.6" cy="368.1" r="2.7" fill="url(#gG)"/>
<circle cx="779.4" cy="372.2" r="2.4" fill="url(#gO)"/>
<circle cx="785.8" cy="372.2" r="2.4" fill="url(#gO)"/>
<circle cx="782.6" cy="359.9" r="2.7" fill="url(#gG)"/>
<circle cx="779.4" cy="364.0" r="2.4" fill="url(#gO)"/>
<circle cx="785.8" cy="364.0" r="2.4" fill="url(#gO)"/>
<circle cx="782.6" cy="351.7" r="2.7" fill="url(#gG)"/>
<circle cx="779.4" cy="355.8" r="2.4" fill="url(#gO)"/>
<circle cx="785.8" cy="355.8" r="2.4" fill="url(#gO)"/>
<circle cx="782.6" cy="343.5" r="2.7" fill="url(#gG)"/>
<circle cx="779.4" cy="347.6" r="2.4" fill="url(#gO)"/>
<circle cx="785.8" cy="347.6" r="2.4" fill="url(#gO)"/>
<circle cx="779.4" cy="339.4" r="2.4" fill="url(#gO)"/>
<circle cx="785.8" cy="339.4" r="2.4" fill="url(#gO)"/>
<circle cx="810.2" cy="368.1" r="2.7" fill="url(#gG)"/>
<circle cx="807.0" cy="372.2" r="2.4" fill="url(#gO)"/>
<circle cx="813.4" cy="372.2" r="2.4" fill="url(#gO)"/>
<circle cx="810.2" cy="359.9" r="2.7" fill="url(#gG)"/>
<circle cx="807.0" cy="364.0" r="2.4" fill="url(#gO)"/>
<circle cx="813.4" cy="364.0" r="2.4" fill="url(#gO)"/>
<circle cx="810.2" cy="351.7" r="2.7" fill="url(#gG)"/>
<circle cx="807.0" cy="355.8" r="2.4" fill="url(#gO)"/>
<circle cx="813.4" cy="355.8" r="2.4" fill="url(#gO)"/>
<circle cx="810.2" cy="343.5" r="2.7" fill="url(#gG)"/>
<circle cx="807.0" cy="347.6" r="2.4" fill="url(#gO)"/>
<circle cx="813.4" cy="347.6" r="2.4" fill="url(#gO)"/>
<circle cx="807.0" cy="339.4" r="2.4" fill="url(#gO)"/>
<circle cx="813.4" cy="339.4" r="2.4" fill="url(#gO)"/>
<circle cx="837.8" cy="368.1" r="2.7" fill="url(#gG)"/>
<circle cx="834.6" cy="372.2" r="2.4" fill="url(#gO)"/>
<circle cx="841.0" cy="372.2" r="2.4" fill="url(#gO)"/>
<circle cx="837.8" cy="359.9" r="2.7" fill="url(#gG)"/>
<circle cx="834.6" cy="364.0" r="2.4" fill="url(#gO)"/>
<circle cx="841.0" cy="364.0" r="2.4" fill="url(#gO)"/>
<circle cx="837.8" cy="351.7" r="2.7" fill="url(#gG)"/>
<circle cx="834.6" cy="355.8" r="2.4" fill="url(#gO)"/>
<circle cx="841.0" cy="355.8" r="2.4" fill="url(#gO)"/>
<circle cx="837.8" cy="343.5" r="2.7" fill="url(#gG)"/>
<circle cx="834.6" cy="347.6" r="2.4" fill="url(#gO)"/>
<circle cx="841.0" cy="347.6" r="2.4" fill="url(#gO)"/>
<circle cx="834.6" cy="339.4" r="2.4" fill="url(#gO)"/>
<circle cx="841.0" cy="339.4" r="2.4" fill="url(#gO)"/>
<circle cx="865.4" cy="368.1" r="2.7" fill="url(#gG)"/>
<circle cx="862.2" cy="372.2" r="2.4" fill="url(#gO)"/>
<circle cx="868.6" cy="372.2" r="2.4" fill="url(#gO)"/>
<circle cx="865.4" cy="359.9" r="2.7" fill="url(#gG)"/>
<circle cx="862.2" cy="364.0" r="2.4" fill="url(#gO)"/>
<circle cx="868.6" cy="364.0" r="2.4" fill="url(#gO)"/>
<circle cx="865.4" cy="351.7" r="2.7" fill="url(#gG)"/>
<circle cx="862.2" cy="355.8" r="2.4" fill="url(#gO)"/>
<circle cx="868.6" cy="355.8" r="2.4" fill="url(#gO)"/>
<circle cx="865.4" cy="343.5" r="2.7" fill="url(#gG)"/>
<circle cx="862.2" cy="347.6" r="2.4" fill="url(#gO)"/>
<circle cx="868.6" cy="347.6" r="2.4" fill="url(#gO)"/>
<circle cx="862.2" cy="339.4" r="2.4" fill="url(#gO)"/>
<circle cx="868.6" cy="339.4" r="2.4" fill="url(#gO)"/>
<circle cx="893.0" cy="368.1" r="2.7" fill="url(#gG)"/>
<circle cx="889.8" cy="372.2" r="2.4" fill="url(#gO)"/>
<circle cx="896.2" cy="372.2" r="2.4" fill="url(#gO)"/>
<circle cx="893.0" cy="359.9" r="2.7" fill="url(#gG)"/>
<circle cx="889.8" cy="364.0" r="2.4" fill="url(#gO)"/>
<circle cx="896.2" cy="364.0" r="2.4" fill="url(#gO)"/>
<circle cx="893.0" cy="351.7" r="2.7" fill="url(#gG)"/>
<circle cx="889.8" cy="355.8" r="2.4" fill="url(#gO)"/>
<circle cx="896.2" cy="355.8" r="2.4" fill="url(#gO)"/>
<circle cx="893.0" cy="343.5" r="2.7" fill="url(#gG)"/>
<circle cx="889.8" cy="347.6" r="2.4" fill="url(#gO)"/>
<circle cx="896.2" cy="347.6" r="2.4" fill="url(#gO)"/>
<circle cx="889.8" cy="339.4" r="2.4" fill="url(#gO)"/>
<circle cx="896.2" cy="339.4" r="2.4" fill="url(#gO)"/>
<circle cx="920.6" cy="368.1" r="2.7" fill="url(#gG)"/>
<circle cx="917.4" cy="372.2" r="2.4" fill="url(#gO)"/>
<circle cx="923.8" cy="372.2" r="2.4" fill="url(#gO)"/>
<circle cx="920.6" cy="359.9" r="2.7" fill="url(#gG)"/>
<circle cx="917.4" cy="364.0" r="2.4" fill="url(#gO)"/>
<circle cx="923.8" cy="364.0" r="2.4" fill="url(#gO)"/>
<circle cx="920.6" cy="351.7" r="2.7" fill="url(#gG)"/>
<circle cx="917.4" cy="355.8" r="2.4" fill="url(#gO)"/>
<circle cx="923.8" cy="355.8" r="2.4" fill="url(#gO)"/>
<circle cx="920.6" cy="343.5" r="2.7" fill="url(#gG)"/>
<circle cx="917.4" cy="347.6" r="2.4" fill="url(#gO)"/>
<circle cx="923.8" cy="347.6" r="2.4" fill="url(#gO)"/>
<circle cx="917.4" cy="339.4" r="2.4" fill="url(#gO)"/>
<circle cx="923.8" cy="339.4" r="2.4" fill="url(#gO)"/>
<circle cx="948.2" cy="368.1" r="2.7" fill="url(#gG)"/>
<circle cx="945.0" cy="372.2" r="2.4" fill="url(#gO)"/>
<circle cx="951.4" cy="372.2" r="2.4" fill="url(#gO)"/>
<circle cx="948.2" cy="359.9" r="2.7" fill="url(#gG)"/>
<circle cx="945.0" cy="364.0" r="2.4" fill="url(#gO)"/>
<circle cx="951.4" cy="364.0" r="2.4" fill="url(#gO)"/>
<circle cx="948.2" cy="351.7" r="2.7" fill="url(#gG)"/>
<circle cx="945.0" cy="355.8" r="2.4" fill="url(#gO)"/>
<circle cx="951.4" cy="355.8" r="2.4" fill="url(#gO)"/>
<circle cx="948.2" cy="343.5" r="2.7" fill="url(#gG)"/>
<circle cx="945.0" cy="347.6" r="2.4" fill="url(#gO)"/>
<circle cx="951.4" cy="347.6" r="2.4" fill="url(#gO)"/>
<circle cx="945.0" cy="339.4" r="2.4" fill="url(#gO)"/>
<circle cx="951.4" cy="339.4" r="2.4" fill="url(#gO)"/>
<circle cx="717.6" cy="380.3" r="2.7" fill="url(#gG)"/>
<circle cx="714.4" cy="384.4" r="2.4" fill="url(#gO)"/>
<circle cx="720.8" cy="384.4" r="2.4" fill="url(#gO)"/>
<circle cx="717.6" cy="372.1" r="2.7" fill="url(#gG)"/>
<circle cx="714.4" cy="376.2" r="2.4" fill="url(#gO)"/>
<circle cx="720.8" cy="376.2" r="2.4" fill="url(#gO)"/>
<circle cx="717.6" cy="363.9" r="2.7" fill="url(#gG)"/>
<circle cx="714.4" cy="368.0" r="2.4" fill="url(#gO)"/>
<circle cx="720.8" cy="368.0" r="2.4" fill="url(#gO)"/>
<circle cx="717.6" cy="355.7" r="2.7" fill="url(#gG)"/>
<circle cx="714.4" cy="359.8" r="2.4" fill="url(#gO)"/>
<circle cx="720.8" cy="359.8" r="2.4" fill="url(#gO)"/>
<circle cx="714.4" cy="351.6" r="2.4" fill="url(#gO)"/>
<circle cx="720.8" cy="351.6" r="2.4" fill="url(#gO)"/>
<circle cx="745.2" cy="380.3" r="2.7" fill="url(#gG)"/>
<circle cx="742.0" cy="384.4" r="2.4" fill="url(#gO)"/>
<circle cx="748.4" cy="384.4" r="2.4" fill="url(#gO)"/>
<circle cx="745.2" cy="372.1" r="2.7" fill="url(#gG)"/>
<circle cx="742.0" cy="376.2" r="2.4" fill="url(#gO)"/>
<circle cx="748.4" cy="376.2" r="2.4" fill="url(#gO)"/>
<circle cx="745.2" cy="363.9" r="2.7" fill="url(#gG)"/>
<circle cx="742.0" cy="368.0" r="2.4" fill="url(#gO)"/>
<circle cx="748.4" cy="368.0" r="2.4" fill="url(#gO)"/>
<circle cx="745.2" cy="355.7" r="2.7" fill="url(#gG)"/>
<circle cx="742.0" cy="359.8" r="2.4" fill="url(#gO)"/>
<circle cx="748.4" cy="359.8" r="2.4" fill="url(#gO)"/>
<circle cx="742.0" cy="351.6" r="2.4" fill="url(#gO)"/>
<circle cx="748.4" cy="351.6" r="2.4" fill="url(#gO)"/>
<circle cx="772.8" cy="380.3" r="2.7" fill="url(#gG)"/>
<circle cx="769.6" cy="384.4" r="2.4" fill="url(#gO)"/>
<circle cx="776.0" cy="384.4" r="2.4" fill="url(#gO)"/>
<circle cx="772.8" cy="372.1" r="2.7" fill="url(#gG)"/>
<circle cx="769.6" cy="376.2" r="2.4" fill="url(#gO)"/>
<circle cx="776.0" cy="376.2" r="2.4" fill="url(#gO)"/>
<circle cx="772.8" cy="363.9" r="2.7" fill="url(#gG)"/>
<circle cx="769.6" cy="368.0" r="2.4" fill="url(#gO)"/>
<circle cx="776.0" cy="368.0" r="2.4" fill="url(#gO)"/>
<circle cx="772.8" cy="355.7" r="2.7" fill="url(#gG)"/>
<circle cx="769.6" cy="359.8" r="2.4" fill="url(#gO)"/>
<circle cx="776.0" cy="359.8" r="2.4" fill="url(#gO)"/>
<circle cx="769.6" cy="351.6" r="2.4" fill="url(#gO)"/>
<circle cx="776.0" cy="351.6" r="2.4" fill="url(#gO)"/>
<circle cx="800.4" cy="380.3" r="2.7" fill="url(#gG)"/>
<circle cx="797.2" cy="384.4" r="2.4" fill="url(#gO)"/>
<circle cx="803.6" cy="384.4" r="2.4" fill="url(#gO)"/>
<circle cx="800.4" cy="372.1" r="2.7" fill="url(#gG)"/>
<circle cx="797.2" cy="376.2" r="2.4" fill="url(#gO)"/>
<circle cx="803.6" cy="376.2" r="2.4" fill="url(#gO)"/>
<circle cx="800.4" cy="363.9" r="2.7" fill="url(#gG)"/>
<circle cx="797.2" cy="368.0" r="2.4" fill="url(#gO)"/>
<circle cx="803.6" cy="368.0" r="2.4" fill="url(#gO)"/>
<circle cx="800.4" cy="355.7" r="2.7" fill="url(#gG)"/>
<circle cx="797.2" cy="359.8" r="2.4" fill="url(#gO)"/>
<circle cx="803.6" cy="359.8" r="2.4" fill="url(#gO)"/>
<circle cx="797.2" cy="351.6" r="2.4" fill="url(#gO)"/>
<circle cx="803.6" cy="351.6" r="2.4" fill="url(#gO)"/>
<circle cx="828.0" cy="380.3" r="2.7" fill="url(#gG)"/>
<circle cx="824.8" cy="384.4" r="2.4" fill="url(#gO)"/>
<circle cx="831.2" cy="384.4" r="2.4" fill="url(#gO)"/>
<circle cx="828.0" cy="372.1" r="2.7" fill="url(#gG)"/>
<circle cx="824.8" cy="376.2" r="2.4" fill="url(#gO)"/>
<circle cx="831.2" cy="376.2" r="2.4" fill="url(#gO)"/>
<circle cx="828.0" cy="363.9" r="2.7" fill="url(#gG)"/>
<circle cx="824.8" cy="368.0" r="2.4" fill="url(#gO)"/>
<circle cx="831.2" cy="368.0" r="2.4" fill="url(#gO)"/>
<circle cx="828.0" cy="355.7" r="2.7" fill="url(#gG)"/>
<circle cx="824.8" cy="359.8" r="2.4" fill="url(#gO)"/>
<circle cx="831.2" cy="359.8" r="2.4" fill="url(#gO)"/>
<circle cx="824.8" cy="351.6" r="2.4" fill="url(#gO)"/>
<circle cx="831.2" cy="351.6" r="2.4" fill="url(#gO)"/>
<circle cx="855.6" cy="380.3" r="2.7" fill="url(#gG)"/>
<circle cx="852.4" cy="384.4" r="2.4" fill="url(#gO)"/>
<circle cx="858.8" cy="384.4" r="2.4" fill="url(#gO)"/>
<circle cx="855.6" cy="372.1" r="2.7" fill="url(#gG)"/>
<circle cx="852.4" cy="376.2" r="2.4" fill="url(#gO)"/>
<circle cx="858.8" cy="376.2" r="2.4" fill="url(#gO)"/>
<circle cx="855.6" cy="363.9" r="2.7" fill="url(#gG)"/>
<circle cx="852.4" cy="368.0" r="2.4" fill="url(#gO)"/>
<circle cx="858.8" cy="368.0" r="2.4" fill="url(#gO)"/>
<circle cx="855.6" cy="355.7" r="2.7" fill="url(#gG)"/>
<circle cx="852.4" cy="359.8" r="2.4" fill="url(#gO)"/>
<circle cx="858.8" cy="359.8" r="2.4" fill="url(#gO)"/>
<circle cx="852.4" cy="351.6" r="2.4" fill="url(#gO)"/>
<circle cx="858.8" cy="351.6" r="2.4" fill="url(#gO)"/>
<circle cx="883.2" cy="380.3" r="2.7" fill="url(#gG)"/>
<circle cx="880.0" cy="384.4" r="2.4" fill="url(#gO)"/>
<circle cx="886.4" cy="384.4" r="2.4" fill="url(#gO)"/>
<circle cx="883.2" cy="372.1" r="2.7" fill="url(#gG)"/>
<circle cx="880.0" cy="376.2" r="2.4" fill="url(#gO)"/>
<circle cx="886.4" cy="376.2" r="2.4" fill="url(#gO)"/>
<circle cx="883.2" cy="363.9" r="2.7" fill="url(#gG)"/>
<circle cx="880.0" cy="368.0" r="2.4" fill="url(#gO)"/>
<circle cx="886.4" cy="368.0" r="2.4" fill="url(#gO)"/>
<circle cx="883.2" cy="355.7" r="2.7" fill="url(#gG)"/>
<circle cx="880.0" cy="359.8" r="2.4" fill="url(#gO)"/>
<circle cx="886.4" cy="359.8" r="2.4" fill="url(#gO)"/>
<circle cx="880.0" cy="351.6" r="2.4" fill="url(#gO)"/>
<circle cx="886.4" cy="351.6" r="2.4" fill="url(#gO)"/>
<circle cx="910.8" cy="380.3" r="2.7" fill="url(#gG)"/>
<circle cx="907.6" cy="384.4" r="2.4" fill="url(#gO)"/>
<circle cx="914.0" cy="384.4" r="2.4" fill="url(#gO)"/>
<circle cx="910.8" cy="372.1" r="2.7" fill="url(#gG)"/>
<circle cx="907.6" cy="376.2" r="2.4" fill="url(#gO)"/>
<circle cx="914.0" cy="376.2" r="2.4" fill="url(#gO)"/>
<circle cx="910.8" cy="363.9" r="2.7" fill="url(#gG)"/>
<circle cx="907.6" cy="368.0" r="2.4" fill="url(#gO)"/>
<circle cx="914.0" cy="368.0" r="2.4" fill="url(#gO)"/>
<circle cx="910.8" cy="355.7" r="2.7" fill="url(#gG)"/>
<circle cx="907.6" cy="359.8" r="2.4" fill="url(#gO)"/>
<circle cx="914.0" cy="359.8" r="2.4" fill="url(#gO)"/>
<circle cx="907.6" cy="351.6" r="2.4" fill="url(#gO)"/>
<circle cx="914.0" cy="351.6" r="2.4" fill="url(#gO)"/>
<circle cx="938.4" cy="380.3" r="2.7" fill="url(#gG)"/>
<circle cx="935.2" cy="384.4" r="2.4" fill="url(#gO)"/>
<circle cx="941.6" cy="384.4" r="2.4" fill="url(#gO)"/>
<circle cx="938.4" cy="372.1" r="2.7" fill="url(#gG)"/>
<circle cx="935.2" cy="376.2" r="2.4" fill="url(#gO)"/>
<circle cx="941.6" cy="376.2" r="2.4" fill="url(#gO)"/>
<circle cx="938.4" cy="363.9" r="2.7" fill="url(#gG)"/>
<circle cx="935.2" cy="368.0" r="2.4" fill="url(#gO)"/>
<circle cx="941.6" cy="368.0" r="2.4" fill="url(#gO)"/>
<circle cx="938.4" cy="355.7" r="2.7" fill="url(#gG)"/>
<circle cx="935.2" cy="359.8" r="2.4" fill="url(#gO)"/>
<circle cx="941.6" cy="359.8" r="2.4" fill="url(#gO)"/>
<circle cx="935.2" cy="351.6" r="2.4" fill="url(#gO)"/>
<circle cx="941.6" cy="351.6" r="2.4" fill="url(#gO)"/>
<circle cx="707.8" cy="392.5" r="2.7" fill="url(#gG)"/>
<circle cx="704.6" cy="396.6" r="2.4" fill="url(#gO)"/>
<circle cx="711.0" cy="396.6" r="2.4" fill="url(#gO)"/>
<circle cx="707.8" cy="384.3" r="2.7" fill="url(#gG)"/>
<circle cx="704.6" cy="388.4" r="2.4" fill="url(#gO)"/>
<circle cx="711.0" cy="388.4" r="2.4" fill="url(#gO)"/>
<circle cx="707.8" cy="376.1" r="2.7" fill="url(#gG)"/>
<circle cx="704.6" cy="380.2" r="2.4" fill="url(#gO)"/>
<circle cx="711.0" cy="380.2" r="2.4" fill="url(#gO)"/>
<circle cx="707.8" cy="367.9" r="2.7" fill="url(#gG)"/>
<circle cx="704.6" cy="372.0" r="2.4" fill="url(#gO)"/>
<circle cx="711.0" cy="372.0" r="2.4" fill="url(#gO)"/>
<circle cx="704.6" cy="363.8" r="2.4" fill="url(#gO)"/>
<circle cx="711.0" cy="363.8" r="2.4" fill="url(#gO)"/>
<circle cx="735.4" cy="392.5" r="2.7" fill="url(#gG)"/>
<circle cx="732.2" cy="396.6" r="2.4" fill="url(#gO)"/>
<circle cx="738.6" cy="396.6" r="2.4" fill="url(#gO)"/>
<circle cx="735.4" cy="384.3" r="2.7" fill="url(#gG)"/>
<circle cx="732.2" cy="388.4" r="2.4" fill="url(#gO)"/>
<circle cx="738.6" cy="388.4" r="2.4" fill="url(#gO)"/>
<circle cx="735.4" cy="376.1" r="2.7" fill="url(#gG)"/>
<circle cx="732.2" cy="380.2" r="2.4" fill="url(#gO)"/>
<circle cx="738.6" cy="380.2" r="2.4" fill="url(#gO)"/>
<circle cx="735.4" cy="367.9" r="2.7" fill="url(#gG)"/>
<circle cx="732.2" cy="372.0" r="2.4" fill="url(#gO)"/>
<circle cx="738.6" cy="372.0" r="2.4" fill="url(#gO)"/>
<circle cx="732.2" cy="363.8" r="2.4" fill="url(#gO)"/>
<circle cx="738.6" cy="363.8" r="2.4" fill="url(#gO)"/>
<circle cx="763.0" cy="392.5" r="2.7" fill="url(#gG)"/>
<circle cx="759.8" cy="396.6" r="2.4" fill="url(#gO)"/>
<circle cx="766.2" cy="396.6" r="2.4" fill="url(#gO)"/>
<circle cx="763.0" cy="384.3" r="2.7" fill="url(#gG)"/>
<circle cx="759.8" cy="388.4" r="2.4" fill="url(#gO)"/>
<circle cx="766.2" cy="388.4" r="2.4" fill="url(#gO)"/>
<circle cx="763.0" cy="376.1" r="2.7" fill="url(#gG)"/>
<circle cx="759.8" cy="380.2" r="2.4" fill="url(#gO)"/>
<circle cx="766.2" cy="380.2" r="2.4" fill="url(#gO)"/>
<circle cx="763.0" cy="367.9" r="2.7" fill="url(#gG)"/>
<circle cx="759.8" cy="372.0" r="2.4" fill="url(#gO)"/>
<circle cx="766.2" cy="372.0" r="2.4" fill="url(#gO)"/>
<circle cx="759.8" cy="363.8" r="2.4" fill="url(#gO)"/>
<circle cx="766.2" cy="363.8" r="2.4" fill="url(#gO)"/>
<circle cx="790.6" cy="392.5" r="2.7" fill="url(#gG)"/>
<circle cx="787.4" cy="396.6" r="2.4" fill="url(#gO)"/>
<circle cx="793.8" cy="396.6" r="2.4" fill="url(#gO)"/>
<circle cx="790.6" cy="384.3" r="2.7" fill="url(#gG)"/>
<circle cx="787.4" cy="388.4" r="2.4" fill="url(#gO)"/>
<circle cx="793.8" cy="388.4" r="2.4" fill="url(#gO)"/>
<circle cx="790.6" cy="376.1" r="2.7" fill="url(#gG)"/>
<circle cx="787.4" cy="380.2" r="2.4" fill="url(#gO)"/>
<circle cx="793.8" cy="380.2" r="2.4" fill="url(#gO)"/>
<circle cx="790.6" cy="367.9" r="2.7" fill="url(#gG)"/>
<circle cx="787.4" cy="372.0" r="2.4" fill="url(#gO)"/>
<circle cx="793.8" cy="372.0" r="2.4" fill="url(#gO)"/>
<circle cx="787.4" cy="363.8" r="2.4" fill="url(#gO)"/>
<circle cx="793.8" cy="363.8" r="2.4" fill="url(#gO)"/>
<circle cx="818.2" cy="392.5" r="2.7" fill="url(#gG)"/>
<circle cx="815.0" cy="396.6" r="2.4" fill="url(#gO)"/>
<circle cx="821.4" cy="396.6" r="2.4" fill="url(#gO)"/>
<circle cx="818.2" cy="384.3" r="2.7" fill="url(#gG)"/>
<circle cx="815.0" cy="388.4" r="2.4" fill="url(#gO)"/>
<circle cx="821.4" cy="388.4" r="2.4" fill="url(#gO)"/>
<circle cx="818.2" cy="376.1" r="2.7" fill="url(#gG)"/>
<circle cx="815.0" cy="380.2" r="2.4" fill="url(#gO)"/>
<circle cx="821.4" cy="380.2" r="2.4" fill="url(#gO)"/>
<circle cx="818.2" cy="367.9" r="2.7" fill="url(#gG)"/>
<circle cx="815.0" cy="372.0" r="2.4" fill="url(#gO)"/>
<circle cx="821.4" cy="372.0" r="2.4" fill="url(#gO)"/>
<circle cx="815.0" cy="363.8" r="2.4" fill="url(#gO)"/>
<circle cx="821.4" cy="363.8" r="2.4" fill="url(#gO)"/>
<circle cx="845.8" cy="392.5" r="2.7" fill="url(#gG)"/>
<circle cx="842.6" cy="396.6" r="2.4" fill="url(#gO)"/>
<circle cx="849.0" cy="396.6" r="2.4" fill="url(#gO)"/>
<circle cx="845.8" cy="384.3" r="2.7" fill="url(#gG)"/>
<circle cx="842.6" cy="388.4" r="2.4" fill="url(#gO)"/>
<circle cx="849.0" cy="388.4" r="2.4" fill="url(#gO)"/>
<circle cx="845.8" cy="376.1" r="2.7" fill="url(#gG)"/>
<circle cx="842.6" cy="380.2" r="2.4" fill="url(#gO)"/>
<circle cx="849.0" cy="380.2" r="2.4" fill="url(#gO)"/>
<circle cx="845.8" cy="367.9" r="2.7" fill="url(#gG)"/>
<circle cx="842.6" cy="372.0" r="2.4" fill="url(#gO)"/>
<circle cx="849.0" cy="372.0" r="2.4" fill="url(#gO)"/>
<circle cx="842.6" cy="363.8" r="2.4" fill="url(#gO)"/>
<circle cx="849.0" cy="363.8" r="2.4" fill="url(#gO)"/>
<circle cx="873.4" cy="392.5" r="2.7" fill="url(#gG)"/>
<circle cx="870.2" cy="396.6" r="2.4" fill="url(#gO)"/>
<circle cx="876.6" cy="396.6" r="2.4" fill="url(#gO)"/>
<circle cx="873.4" cy="384.3" r="2.7" fill="url(#gG)"/>
<circle cx="870.2" cy="388.4" r="2.4" fill="url(#gO)"/>
<circle cx="876.6" cy="388.4" r="2.4" fill="url(#gO)"/>
<circle cx="873.4" cy="376.1" r="2.7" fill="url(#gG)"/>
<circle cx="870.2" cy="380.2" r="2.4" fill="url(#gO)"/>
<circle cx="876.6" cy="380.2" r="2.4" fill="url(#gO)"/>
<circle cx="873.4" cy="367.9" r="2.7" fill="url(#gG)"/>
<circle cx="870.2" cy="372.0" r="2.4" fill="url(#gO)"/>
<circle cx="876.6" cy="372.0" r="2.4" fill="url(#gO)"/>
<circle cx="870.2" cy="363.8" r="2.4" fill="url(#gO)"/>
<circle cx="876.6" cy="363.8" r="2.4" fill="url(#gO)"/>
<circle cx="901.0" cy="392.5" r="2.7" fill="url(#gG)"/>
<circle cx="897.8" cy="396.6" r="2.4" fill="url(#gO)"/>
<circle cx="904.2" cy="396.6" r="2.4" fill="url(#gO)"/>
<circle cx="901.0" cy="384.3" r="2.7" fill="url(#gG)"/>
<circle cx="897.8" cy="388.4" r="2.4" fill="url(#gO)"/>
<circle cx="904.2" cy="388.4" r="2.4" fill="url(#gO)"/>
<circle cx="901.0" cy="376.1" r="2.7" fill="url(#gG)"/>
<circle cx="897.8" cy="380.2" r="2.4" fill="url(#gO)"/>
<circle cx="904.2" cy="380.2" r="2.4" fill="url(#gO)"/>
<circle cx="901.0" cy="367.9" r="2.7" fill="url(#gG)"/>
<circle cx="897.8" cy="372.0" r="2.4" fill="url(#gO)"/>
<circle cx="904.2" cy="372.0" r="2.4" fill="url(#gO)"/>
<circle cx="897.8" cy="363.8" r="2.4" fill="url(#gO)"/>
<circle cx="904.2" cy="363.8" r="2.4" fill="url(#gO)"/>
<circle cx="928.6" cy="392.5" r="2.7" fill="url(#gG)"/>
<circle cx="925.4" cy="396.6" r="2.4" fill="url(#gO)"/>
<circle cx="931.8" cy="396.6" r="2.4" fill="url(#gO)"/>
<circle cx="928.6" cy="384.3" r="2.7" fill="url(#gG)"/>
<circle cx="925.4" cy="388.4" r="2.4" fill="url(#gO)"/>
<circle cx="931.8" cy="388.4" r="2.4" fill="url(#gO)"/>
<circle cx="928.6" cy="376.1" r="2.7" fill="url(#gG)"/>
<circle cx="925.4" cy="380.2" r="2.4" fill="url(#gO)"/>
<circle cx="931.8" cy="380.2" r="2.4" fill="url(#gO)"/>
<circle cx="928.6" cy="367.9" r="2.7" fill="url(#gG)"/>
<circle cx="925.4" cy="372.0" r="2.4" fill="url(#gO)"/>
<circle cx="931.8" cy="372.0" r="2.4" fill="url(#gO)"/>
<circle cx="925.4" cy="363.8" r="2.4" fill="url(#gO)"/>
<circle cx="931.8" cy="363.8" r="2.4" fill="url(#gO)"/>
<circle cx="698.0" cy="404.7" r="2.7" fill="url(#gG)"/>
<circle cx="694.8" cy="408.8" r="2.4" fill="url(#gO)"/>
<circle cx="701.2" cy="408.8" r="2.4" fill="url(#gO)"/>
<circle cx="698.0" cy="396.5" r="2.7" fill="url(#gG)"/>
<circle cx="694.8" cy="400.6" r="2.4" fill="url(#gO)"/>
<circle cx="701.2" cy="400.6" r="2.4" fill="url(#gO)"/>
<circle cx="698.0" cy="388.3" r="2.7" fill="url(#gG)"/>
<circle cx="694.8" cy="392.4" r="2.4" fill="url(#gO)"/>
<circle cx="701.2" cy="392.4" r="2.4" fill="url(#gO)"/>
<circle cx="698.0" cy="380.1" r="2.7" fill="url(#gG)"/>
<circle cx="694.8" cy="384.2" r="2.4" fill="url(#gO)"/>
<circle cx="701.2" cy="384.2" r="2.4" fill="url(#gO)"/>
<circle cx="694.8" cy="376.0" r="2.4" fill="url(#gO)"/>
<circle cx="701.2" cy="376.0" r="2.4" fill="url(#gO)"/>
<circle cx="725.6" cy="404.7" r="2.7" fill="url(#gG)"/>
<circle cx="722.4" cy="408.8" r="2.4" fill="url(#gO)"/>
<circle cx="728.8" cy="408.8" r="2.4" fill="url(#gO)"/>
<circle cx="725.6" cy="396.5" r="2.7" fill="url(#gG)"/>
<circle cx="722.4" cy="400.6" r="2.4" fill="url(#gO)"/>
<circle cx="728.8" cy="400.6" r="2.4" fill="url(#gO)"/>
<circle cx="725.6" cy="388.3" r="2.7" fill="url(#gG)"/>
<circle cx="722.4" cy="392.4" r="2.4" fill="url(#gO)"/>
<circle cx="728.8" cy="392.4" r="2.4" fill="url(#gO)"/>
<circle cx="725.6" cy="380.1" r="2.7" fill="url(#gG)"/>
<circle cx="722.4" cy="384.2" r="2.4" fill="url(#gO)"/>
<circle cx="728.8" cy="384.2" r="2.4" fill="url(#gO)"/>
<circle cx="722.4" cy="376.0" r="2.4" fill="url(#gO)"/>
<circle cx="728.8" cy="376.0" r="2.4" fill="url(#gO)"/>
<circle cx="753.2" cy="404.7" r="2.7" fill="url(#gG)"/>
<circle cx="750.0" cy="408.8" r="2.4" fill="url(#gO)"/>
<circle cx="756.4" cy="408.8" r="2.4" fill="url(#gO)"/>
<circle cx="753.2" cy="396.5" r="2.7" fill="url(#gG)"/>
<circle cx="750.0" cy="400.6" r="2.4" fill="url(#gO)"/>
<circle cx="756.4" cy="400.6" r="2.4" fill="url(#gO)"/>
<circle cx="753.2" cy="388.3" r="2.7" fill="url(#gG)"/>
<circle cx="750.0" cy="392.4" r="2.4" fill="url(#gO)"/>
<circle cx="756.4" cy="392.4" r="2.4" fill="url(#gO)"/>
<circle cx="753.2" cy="380.1" r="2.7" fill="url(#gG)"/>
<circle cx="750.0" cy="384.2" r="2.4" fill="url(#gO)"/>
<circle cx="756.4" cy="384.2" r="2.4" fill="url(#gO)"/>
<circle cx="750.0" cy="376.0" r="2.4" fill="url(#gO)"/>
<circle cx="756.4" cy="376.0" r="2.4" fill="url(#gO)"/>
<circle cx="780.8" cy="404.7" r="2.7" fill="url(#gG)"/>
<circle cx="777.6" cy="408.8" r="2.4" fill="url(#gO)"/>
<circle cx="784.0" cy="408.8" r="2.4" fill="url(#gO)"/>
<circle cx="780.8" cy="396.5" r="2.7" fill="url(#gG)"/>
<circle cx="777.6" cy="400.6" r="2.4" fill="url(#gO)"/>
<circle cx="784.0" cy="400.6" r="2.4" fill="url(#gO)"/>
<circle cx="780.8" cy="388.3" r="2.7" fill="url(#gG)"/>
<circle cx="777.6" cy="392.4" r="2.4" fill="url(#gO)"/>
<circle cx="784.0" cy="392.4" r="2.4" fill="url(#gO)"/>
<circle cx="780.8" cy="380.1" r="2.7" fill="url(#gG)"/>
<circle cx="777.6" cy="384.2" r="2.4" fill="url(#gO)"/>
<circle cx="784.0" cy="384.2" r="2.4" fill="url(#gO)"/>
<circle cx="777.6" cy="376.0" r="2.4" fill="url(#gO)"/>
<circle cx="784.0" cy="376.0" r="2.4" fill="url(#gO)"/>
<circle cx="808.4" cy="404.7" r="2.7" fill="url(#gG)"/>
<circle cx="805.2" cy="408.8" r="2.4" fill="url(#gO)"/>
<circle cx="811.6" cy="408.8" r="2.4" fill="url(#gO)"/>
<circle cx="808.4" cy="396.5" r="2.7" fill="url(#gG)"/>
<circle cx="805.2" cy="400.6" r="2.4" fill="url(#gO)"/>
<circle cx="811.6" cy="400.6" r="2.4" fill="url(#gO)"/>
<circle cx="808.4" cy="388.3" r="2.7" fill="url(#gG)"/>
<circle cx="805.2" cy="392.4" r="2.4" fill="url(#gO)"/>
<circle cx="811.6" cy="392.4" r="2.4" fill="url(#gO)"/>
<circle cx="808.4" cy="380.1" r="2.7" fill="url(#gG)"/>
<circle cx="805.2" cy="384.2" r="2.4" fill="url(#gO)"/>
<circle cx="811.6" cy="384.2" r="2.4" fill="url(#gO)"/>
<circle cx="805.2" cy="376.0" r="2.4" fill="url(#gO)"/>
<circle cx="811.6" cy="376.0" r="2.4" fill="url(#gO)"/>
<circle cx="836.0" cy="404.7" r="2.7" fill="url(#gG)"/>
<circle cx="832.8" cy="408.8" r="2.4" fill="url(#gO)"/>
<circle cx="839.2" cy="408.8" r="2.4" fill="url(#gO)"/>
<circle cx="836.0" cy="396.5" r="2.7" fill="url(#gG)"/>
<circle cx="832.8" cy="400.6" r="2.4" fill="url(#gO)"/>
<circle cx="839.2" cy="400.6" r="2.4" fill="url(#gO)"/>
<circle cx="836.0" cy="388.3" r="2.7" fill="url(#gG)"/>
<circle cx="832.8" cy="392.4" r="2.4" fill="url(#gO)"/>
<circle cx="839.2" cy="392.4" r="2.4" fill="url(#gO)"/>
<circle cx="836.0" cy="380.1" r="2.7" fill="url(#gG)"/>
<circle cx="832.8" cy="384.2" r="2.4" fill="url(#gO)"/>
<circle cx="839.2" cy="384.2" r="2.4" fill="url(#gO)"/>
<circle cx="832.8" cy="376.0" r="2.4" fill="url(#gO)"/>
<circle cx="839.2" cy="376.0" r="2.4" fill="url(#gO)"/>
<circle cx="863.6" cy="404.7" r="2.7" fill="url(#gG)"/>
<circle cx="860.4" cy="408.8" r="2.4" fill="url(#gO)"/>
<circle cx="866.8" cy="408.8" r="2.4" fill="url(#gO)"/>
<circle cx="863.6" cy="396.5" r="2.7" fill="url(#gG)"/>
<circle cx="860.4" cy="400.6" r="2.4" fill="url(#gO)"/>
<circle cx="866.8" cy="400.6" r="2.4" fill="url(#gO)"/>
<circle cx="863.6" cy="388.3" r="2.7" fill="url(#gG)"/>
<circle cx="860.4" cy="392.4" r="2.4" fill="url(#gO)"/>
<circle cx="866.8" cy="392.4" r="2.4" fill="url(#gO)"/>
<circle cx="863.6" cy="380.1" r="2.7" fill="url(#gG)"/>
<circle cx="860.4" cy="384.2" r="2.4" fill="url(#gO)"/>
<circle cx="866.8" cy="384.2" r="2.4" fill="url(#gO)"/>
<circle cx="860.4" cy="376.0" r="2.4" fill="url(#gO)"/>
<circle cx="866.8" cy="376.0" r="2.4" fill="url(#gO)"/>
<circle cx="891.2" cy="404.7" r="2.7" fill="url(#gG)"/>
<circle cx="888.0" cy="408.8" r="2.4" fill="url(#gO)"/>
<circle cx="894.4" cy="408.8" r="2.4" fill="url(#gO)"/>
<circle cx="891.2" cy="396.5" r="2.7" fill="url(#gG)"/>
<circle cx="888.0" cy="400.6" r="2.4" fill="url(#gO)"/>
<circle cx="894.4" cy="400.6" r="2.4" fill="url(#gO)"/>
<circle cx="891.2" cy="388.3" r="2.7" fill="url(#gG)"/>
<circle cx="888.0" cy="392.4" r="2.4" fill="url(#gO)"/>
<circle cx="894.4" cy="392.4" r="2.4" fill="url(#gO)"/>
<circle cx="891.2" cy="380.1" r="2.7" fill="url(#gG)"/>
<circle cx="888.0" cy="384.2" r="2.4" fill="url(#gO)"/>
<circle cx="894.4" cy="384.2" r="2.4" fill="url(#gO)"/>
<circle cx="888.0" cy="376.0" r="2.4" fill="url(#gO)"/>
<circle cx="894.4" cy="376.0" r="2.4" fill="url(#gO)"/>
<circle cx="918.8" cy="404.7" r="2.7" fill="url(#gG)"/>
<circle cx="915.6" cy="408.8" r="2.4" fill="url(#gO)"/>
<circle cx="922.0" cy="408.8" r="2.4" fill="url(#gO)"/>
<circle cx="918.8" cy="396.5" r="2.7" fill="url(#gG)"/>
<circle cx="915.6" cy="400.6" r="2.4" fill="url(#gO)"/>
<circle cx="922.0" cy="400.6" r="2.4" fill="url(#gO)"/>
<circle cx="918.8" cy="388.3" r="2.7" fill="url(#gG)"/>
<circle cx="915.6" cy="392.4" r="2.4" fill="url(#gO)"/>
<circle cx="922.0" cy="392.4" r="2.4" fill="url(#gO)"/>
<circle cx="918.8" cy="380.1" r="2.7" fill="url(#gG)"/>
<circle cx="915.6" cy="384.2" r="2.4" fill="url(#gO)"/>
<circle cx="922.0" cy="384.2" r="2.4" fill="url(#gO)"/>
<circle cx="915.6" cy="376.0" r="2.4" fill="url(#gO)"/>
<circle cx="922.0" cy="376.0" r="2.4" fill="url(#gO)"/>
<polyline points="118.35,840.18 185.25,749.84 196.40,685.86 207.55,614.34 252.15,614.34 486.30,849.59" fill="none" stroke="#ff0000" stroke-width="2.6" stroke-linejoin="round" stroke-dasharray="6.5,8"/>
<polyline points="84.90,849.59 118.35,840.18 151.80,779.96 185.25,708.44 196.40,633.16 207.55,576.70 252.15,576.70 486.30,849.59" fill="none" stroke="#ff0000" stroke-width="2.9" stroke-linejoin="round"/>
<polyline points="118.35,840.18 185.25,835.66 191.94,830.77 196.40,821.36 200.86,806.30 205.32,789.37 207.55,781.84 252.15,746.08 486.30,849.59" fill="none" stroke="#000" stroke-width="2.9" stroke-linejoin="round"/>
<polyline points="84.90,859.00 118.35,859.00 118.35,670.80 185.25,670.80 185.25,835.66 252.15,835.66 252.15,670.80 486.30,670.80" fill="none" stroke="#0000ff" stroke-width="3.6" stroke-linejoin="round"/>
<line x1="84.9" y1="866" x2="490.9" y2="866" stroke="#000" stroke-width="3.6"/>
<line x1="84.90" y1="866" x2="84.90" y2="872.6" stroke="#000" stroke-width="3.6"/>
<line x1="129.50" y1="866" x2="129.50" y2="872.6" stroke="#000" stroke-width="3.6"/>
<line x1="174.10" y1="866" x2="174.10" y2="872.6" stroke="#000" stroke-width="3.6"/>
<line x1="218.70" y1="866" x2="218.70" y2="872.6" stroke="#000" stroke-width="3.6"/>
<line x1="263.30" y1="866" x2="263.30" y2="872.6" stroke="#000" stroke-width="3.6"/>
<line x1="307.90" y1="866" x2="307.90" y2="872.6" stroke="#000" stroke-width="3.6"/>
<line x1="352.50" y1="866" x2="352.50" y2="872.6" stroke="#000" stroke-width="3.6"/>
<line x1="397.10" y1="866" x2="397.10" y2="872.6" stroke="#000" stroke-width="3.6"/>
<line x1="441.70" y1="866" x2="441.70" y2="872.6" stroke="#000" stroke-width="3.6"/>
<line x1="486.30" y1="866" x2="486.30" y2="872.6" stroke="#000" stroke-width="3.6"/>
<line x1="107.20" y1="866" x2="107.20" y2="869.3" stroke="#000" stroke-width="3"/>
<line x1="151.80" y1="866" x2="151.80" y2="869.3" stroke="#000" stroke-width="3"/>
<line x1="196.40" y1="866" x2="196.40" y2="869.3" stroke="#000" stroke-width="3"/>
<line x1="241.00" y1="866" x2="241.00" y2="869.3" stroke="#000" stroke-width="3"/>
<line x1="285.60" y1="866" x2="285.60" y2="869.3" stroke="#000" stroke-width="3"/>
<line x1="330.20" y1="866" x2="330.20" y2="869.3" stroke="#000" stroke-width="3"/>
<line x1="374.80" y1="866" x2="374.80" y2="869.3" stroke="#000" stroke-width="3"/>
<line x1="419.40" y1="866" x2="419.40" y2="869.3" stroke="#000" stroke-width="3"/>
<line x1="464.00" y1="866" x2="464.00" y2="869.3" stroke="#000" stroke-width="3"/>
<text x="80.27" y="889.80" font-family="'Liberation Sans', sans-serif" font-size="16.2" font-weight="bold" fill="#000" textLength="9.37" lengthAdjust="spacingAndGlyphs">0</text>
<text x="120.18" y="889.80" font-family="'Liberation Sans', sans-serif" font-size="16.2" font-weight="bold" fill="#000" textLength="18.74" lengthAdjust="spacingAndGlyphs">20</text>
<text x="164.95" y="889.80" font-family="'Liberation Sans', sans-serif" font-size="16.2" font-weight="bold" fill="#000" textLength="18.74" lengthAdjust="spacingAndGlyphs">40</text>
<text x="209.38" y="889.80" font-family="'Liberation Sans', sans-serif" font-size="16.2" font-weight="bold" fill="#000" textLength="18.74" lengthAdjust="spacingAndGlyphs">60</text>
<text x="253.98" y="889.80" font-family="'Liberation Sans', sans-serif" font-size="16.2" font-weight="bold" fill="#000" textLength="18.74" lengthAdjust="spacingAndGlyphs">80</text>
<text x="293.64" y="889.80" font-family="'Liberation Sans', sans-serif" font-size="16.2" font-weight="bold" fill="#000" textLength="28.11" lengthAdjust="spacingAndGlyphs">100</text>
<text x="338.24" y="889.80" font-family="'Liberation Sans', sans-serif" font-size="16.2" font-weight="bold" fill="#000" textLength="28.11" lengthAdjust="spacingAndGlyphs">120</text>
<text x="382.84" y="889.80" font-family="'Liberation Sans', sans-serif" font-size="16.2" font-weight="bold" fill="#000" textLength="28.11" lengthAdjust="spacingAndGlyphs">140</text>
<text x="427.44" y="889.80" font-family="'Liberation Sans', sans-serif" font-size="16.2" font-weight="bold" fill="#000" textLength="28.11" lengthAdjust="spacingAndGlyphs">160</text>
<text x="472.04" y="889.80" font-family="'Liberation Sans', sans-serif" font-size="16.2" font-weight="bold" fill="#000" textLength="28.11" lengthAdjust="spacingAndGlyphs">180</text>
<line x1="84.9" y1="538.1" x2="84.9" y2="867.8" stroke="#ff0000" stroke-width="3.6"/>
<line x1="80.0" y1="859.00" x2="91.9" y2="859.00" stroke="#ff0000" stroke-width="3.7"/>
<text x="65.51" y="864.00" font-family="'Liberation Sans', sans-serif" font-size="16" font-weight="bold" fill="#ff0000" textLength="9.73" lengthAdjust="spacingAndGlyphs">0</text>
<line x1="80.0" y1="821.36" x2="91.9" y2="821.36" stroke="#ff0000" stroke-width="3.7"/>
<text x="46.05" y="826.36" font-family="'Liberation Sans', sans-serif" font-size="16" font-weight="bold" fill="#ff0000" textLength="29.18" lengthAdjust="spacingAndGlyphs">100</text>
<line x1="80.0" y1="783.72" x2="91.9" y2="783.72" stroke="#ff0000" stroke-width="3.7"/>
<text x="46.05" y="788.72" font-family="'Liberation Sans', sans-serif" font-size="16" font-weight="bold" fill="#ff0000" textLength="29.18" lengthAdjust="spacingAndGlyphs">200</text>
<line x1="80.0" y1="746.08" x2="91.9" y2="746.08" stroke="#ff0000" stroke-width="3.7"/>
<text x="46.05" y="751.08" font-family="'Liberation Sans', sans-serif" font-size="16" font-weight="bold" fill="#ff0000" textLength="29.18" lengthAdjust="spacingAndGlyphs">300</text>
<line x1="80.0" y1="708.44" x2="91.9" y2="708.44" stroke="#ff0000" stroke-width="3.7"/>
<text x="46.05" y="713.44" font-family="'Liberation Sans', sans-serif" font-size="16" font-weight="bold" fill="#ff0000" textLength="29.18" lengthAdjust="spacingAndGlyphs">400</text>
<line x1="80.0" y1="670.80" x2="91.9" y2="670.80" stroke="#ff0000" stroke-width="3.7"/>
<text x="46.05" y="675.80" font-family="'Liberation Sans', sans-serif" font-size="16" font-weight="bold" fill="#ff0000" textLength="29.18" lengthAdjust="spacingAndGlyphs">500</text>
<line x1="80.0" y1="633.16" x2="91.9" y2="633.16" stroke="#ff0000" stroke-width="3.7"/>
<text x="46.05" y="638.16" font-family="'Liberation Sans', sans-serif" font-size="16" font-weight="bold" fill="#ff0000" textLength="29.18" lengthAdjust="spacingAndGlyphs">600</text>
<line x1="80.0" y1="595.52" x2="91.9" y2="595.52" stroke="#ff0000" stroke-width="3.7"/>
<text x="46.05" y="600.52" font-family="'Liberation Sans', sans-serif" font-size="16" font-weight="bold" fill="#ff0000" textLength="29.18" lengthAdjust="spacingAndGlyphs">700</text>
<line x1="80.0" y1="557.88" x2="91.9" y2="557.88" stroke="#ff0000" stroke-width="3.7"/>
<text x="46.05" y="562.88" font-family="'Liberation Sans', sans-serif" font-size="16" font-weight="bold" fill="#ff0000" textLength="29.18" lengthAdjust="spacingAndGlyphs">800</text>
<line x1="84.9" y1="840.18" x2="88.10000000000001" y2="840.18" stroke="#ff0000" stroke-width="3"/>
<line x1="84.9" y1="802.54" x2="88.10000000000001" y2="802.54" stroke="#ff0000" stroke-width="3"/>
<line x1="84.9" y1="764.90" x2="88.10000000000001" y2="764.90" stroke="#ff0000" stroke-width="3"/>
<line x1="84.9" y1="727.26" x2="88.10000000000001" y2="727.26" stroke="#ff0000" stroke-width="3"/>
<line x1="84.9" y1="689.62" x2="88.10000000000001" y2="689.62" stroke="#ff0000" stroke-width="3"/>
<line x1="84.9" y1="651.98" x2="88.10000000000001" y2="651.98" stroke="#ff0000" stroke-width="3"/>
<line x1="84.9" y1="614.34" x2="88.10000000000001" y2="614.34" stroke="#ff0000" stroke-width="3"/>
<line x1="84.9" y1="576.70" x2="88.10000000000001" y2="576.70" stroke="#ff0000" stroke-width="3"/>
<line x1="83.10000000000001" y1="539.9" x2="489.2" y2="539.9" stroke="#000" stroke-width="3.6"/>
<line x1="490.9" y1="538.1" x2="490.9" y2="867.8" stroke="#0000ff" stroke-width="3.4"/>
<line x1="484.09999999999997" y1="859.00" x2="497.09999999999997" y2="859.00" stroke="#0000ff" stroke-width="3.4"/>
<text x="501.20" y="864.00" font-family="'Liberation Sans', sans-serif" font-size="16" font-weight="bold" fill="#0000ff" textLength="9.18" lengthAdjust="spacingAndGlyphs">0</text>
<line x1="484.09999999999997" y1="783.72" x2="497.09999999999997" y2="783.72" stroke="#0000ff" stroke-width="3.4"/>
<text x="501.20" y="788.72" font-family="'Liberation Sans', sans-serif" font-size="16" font-weight="bold" fill="#0000ff" textLength="27.53" lengthAdjust="spacingAndGlyphs">200</text>
<line x1="484.09999999999997" y1="708.44" x2="497.09999999999997" y2="708.44" stroke="#0000ff" stroke-width="3.4"/>
<text x="501.53" y="713.44" font-family="'Liberation Sans', sans-serif" font-size="16" font-weight="bold" fill="#0000ff" textLength="27.53" lengthAdjust="spacingAndGlyphs">400</text>
<line x1="484.09999999999997" y1="633.16" x2="497.09999999999997" y2="633.16" stroke="#0000ff" stroke-width="3.4"/>
<text x="501.20" y="638.16" font-family="'Liberation Sans', sans-serif" font-size="16" font-weight="bold" fill="#0000ff" textLength="27.53" lengthAdjust="spacingAndGlyphs">600</text>
<line x1="484.09999999999997" y1="557.88" x2="497.09999999999997" y2="557.88" stroke="#0000ff" stroke-width="3.4"/>
<text x="501.20" y="562.88" font-family="'Liberation Sans', sans-serif" font-size="16" font-weight="bold" fill="#0000ff" textLength="27.53" lengthAdjust="spacingAndGlyphs">800</text>
<line x1="487.7" y1="821.36" x2="490.9" y2="821.36" stroke="#0000ff" stroke-width="3"/>
<line x1="487.7" y1="746.08" x2="490.9" y2="746.08" stroke="#0000ff" stroke-width="3"/>
<line x1="487.7" y1="670.80" x2="490.9" y2="670.80" stroke="#0000ff" stroke-width="3"/>
<line x1="487.7" y1="595.52" x2="490.9" y2="595.52" stroke="#0000ff" stroke-width="3"/>
<line x1="302.7" y1="549.20" x2="341.7" y2="549.20" stroke="#ff0000" stroke-width="2.9"/>
<line x1="302.7" y1="573.60" x2="341.7" y2="573.60" stroke="#ff0000" stroke-width="2.9" stroke-dasharray="10,4.6"/>
<line x1="302.7" y1="598.00" x2="341.7" y2="598.00" stroke="#000" stroke-width="2.9"/>
<line x1="302.7" y1="622.40" x2="341.7" y2="622.40" stroke="#0000ff" stroke-width="2.9"/>
<text x="347.35" y="556.40" font-family="'Liberation Sans', sans-serif" font-size="17" font-weight="bold" fill="#ff0000" textLength="38.91" lengthAdjust="spacingAndGlyphs">MoO</text>
<text x="386.67" y="560.20" font-family="'Liberation Sans', sans-serif" font-size="11.5" font-weight="bold" fill="#ff0000" textLength="6.34" lengthAdjust="spacingAndGlyphs">3</text>
<text x="347.35" y="580.80" font-family="'Liberation Sans', sans-serif" font-size="17" font-weight="bold" fill="#ff0000" textLength="38.91" lengthAdjust="spacingAndGlyphs">MoO</text>
<text x="386.67" y="584.60" font-family="'Liberation Sans', sans-serif" font-size="11.5" font-weight="bold" fill="#ff0000" textLength="6.34" lengthAdjust="spacingAndGlyphs">3</text>
<text x="392.64" y="580.80" font-family="'Liberation Sans', sans-serif" font-size="17" font-weight="bold" fill="#ff0000" textLength="93.08" lengthAdjust="spacingAndGlyphs">(for metal)</text>
<text x="347.80" y="605.20" font-family="'Liberation Sans', sans-serif" font-size="17" font-weight="bold" fill="#000" textLength="9.84" lengthAdjust="spacingAndGlyphs">S</text>
<text x="348.07" y="629.60" font-family="'Liberation Sans', sans-serif" font-size="17" font-weight="bold" fill="#0000ff" textLength="56.30" lengthAdjust="spacingAndGlyphs">Ar flow</text>
<g transform="translate(0,549.5) scale(1,1.1) translate(0,-549.5)">
<text x="14.71" y="549.50" font-family="'Liberation Serif', serif" font-size="24" font-weight="bold" fill="#000" textLength="30.37" lengthAdjust="spacingAndGlyphs">(c)</text>
</g>
<text x="199.22" y="918.60" font-family="'Liberation Sans', sans-serif" font-size="27.5" font-weight="bold" fill="#000" textLength="199.19" lengthAdjust="spacingAndGlyphs">Time (minutes)</text>
<text x="-736.76" y="32.00" font-family="'Liberation Sans', sans-serif" font-size="26.5" font-weight="bold" fill="#ff0000" textLength="70.19" lengthAdjust="spacingAndGlyphs" transform="rotate(-90)">T (°C)</text>
<text x="-739.24" y="553.20" font-family="'Liberation Sans', sans-serif" font-size="26.5" font-weight="bold" fill="#0000ff" textLength="123.49" lengthAdjust="spacingAndGlyphs" transform="rotate(-90)">Ar (sccm)</text>
<polyline points="628.10,849.59 650.43,825.88 683.92,781.84 762.07,623.75 806.72,623.75 896.03,783.72 985.34,827.01 1030.00,850.72" fill="none" stroke="#e8474a" stroke-width="2.8" stroke-linejoin="round" stroke-dasharray="7.5,7"/>
<polyline points="628.10,847.71 650.43,821.36 762.07,576.70 806.72,576.70 896.03,704.68 985.34,820.61 1030.00,850.72" fill="none" stroke="#ff0000" stroke-width="3.1" stroke-linejoin="round"/>
<polyline points="628.10,849.97 650.43,840.93 683.92,821.36 762.07,746.08 806.72,746.08 896.03,820.98 985.34,843.57 1030.00,850.72" fill="none" stroke="#000" stroke-width="3.0" stroke-linejoin="round"/>
<polyline points="628.10,858.39 651.10,858.39 651.10,670.60 683.47,670.60 683.47,821.59 896.03,821.59 896.03,670.60 985.34,670.60 1030.00,840.66" fill="none" stroke="#0000ff" stroke-width="3.6" stroke-linejoin="round"/>
<line x1="628.1" y1="866" x2="1032" y2="866" stroke="#000" stroke-width="3.6"/>
<line x1="628.10" y1="866" x2="628.10" y2="872.6" stroke="#000" stroke-width="3.6"/>
<line x1="672.76" y1="866" x2="672.76" y2="872.6" stroke="#000" stroke-width="3.6"/>
<line x1="717.41" y1="866" x2="717.41" y2="872.6" stroke="#000" stroke-width="3.6"/>
<line x1="762.07" y1="866" x2="762.07" y2="872.6" stroke="#000" stroke-width="3.6"/>
<line x1="806.72" y1="866" x2="806.72" y2="872.6" stroke="#000" stroke-width="3.6"/>
<line x1="851.38" y1="866" x2="851.38" y2="872.6" stroke="#000" stroke-width="3.6"/>
<line x1="896.03" y1="866" x2="896.03" y2="872.6" stroke="#000" stroke-width="3.6"/>
<line x1="940.69" y1="866" x2="940.69" y2="872.6" stroke="#000" stroke-width="3.6"/>
<line x1="985.34" y1="866" x2="985.34" y2="872.6" stroke="#000" stroke-width="3.6"/>
<line x1="1030.00" y1="866" x2="1030.00" y2="872.6" stroke="#000" stroke-width="3.6"/>
<line x1="650.43" y1="866" x2="650.43" y2="869.3" stroke="#000" stroke-width="3"/>
<line x1="695.08" y1="866" x2="695.08" y2="869.3" stroke="#000" stroke-width="3"/>
<line x1="739.74" y1="866" x2="739.74" y2="869.3" stroke="#000" stroke-width="3"/>
<line x1="784.39" y1="866" x2="784.39" y2="869.3" stroke="#000" stroke-width="3"/>
<line x1="829.05" y1="866" x2="829.05" y2="869.3" stroke="#000" stroke-width="3"/>
<line x1="873.71" y1="866" x2="873.71" y2="869.3" stroke="#000" stroke-width="3"/>
<line x1="918.36" y1="866" x2="918.36" y2="869.3" stroke="#000" stroke-width="3"/>
<line x1="963.02" y1="866" x2="963.02" y2="869.3" stroke="#000" stroke-width="3"/>
<line x1="1007.67" y1="866" x2="1007.67" y2="869.3" stroke="#000" stroke-width="3"/>
<text x="622.88" y="891.70" font-family="'Liberation Sans', sans-serif" font-size="19" font-weight="bold" fill="#000" textLength="10.57" lengthAdjust="spacingAndGlyphs">0</text>
<text x="662.25" y="891.70" font-family="'Liberation Sans', sans-serif" font-size="19" font-weight="bold" fill="#000" textLength="21.13" lengthAdjust="spacingAndGlyphs">20</text>
<text x="707.09" y="891.70" font-family="'Liberation Sans', sans-serif" font-size="19" font-weight="bold" fill="#000" textLength="21.13" lengthAdjust="spacingAndGlyphs">40</text>
<text x="751.56" y="891.70" font-family="'Liberation Sans', sans-serif" font-size="19" font-weight="bold" fill="#000" textLength="21.13" lengthAdjust="spacingAndGlyphs">60</text>
<text x="796.21" y="891.70" font-family="'Liberation Sans', sans-serif" font-size="19" font-weight="bold" fill="#000" textLength="21.13" lengthAdjust="spacingAndGlyphs">80</text>
<text x="835.30" y="891.70" font-family="'Liberation Sans', sans-serif" font-size="19" font-weight="bold" fill="#000" textLength="31.70" lengthAdjust="spacingAndGlyphs">100</text>
<text x="879.96" y="891.70" font-family="'Liberation Sans', sans-serif" font-size="19" font-weight="bold" fill="#000" textLength="31.70" lengthAdjust="spacingAndGlyphs">120</text>
<text x="924.61" y="891.70" font-family="'Liberation Sans', sans-serif" font-size="19" font-weight="bold" fill="#000" textLength="31.70" lengthAdjust="spacingAndGlyphs">140</text>
<text x="969.27" y="891.70" font-family="'Liberation Sans', sans-serif" font-size="19" font-weight="bold" fill="#000" textLength="31.70" lengthAdjust="spacingAndGlyphs">160</text>
<text x="1013.92" y="891.70" font-family="'Liberation Sans', sans-serif" font-size="19" font-weight="bold" fill="#000" textLength="31.70" lengthAdjust="spacingAndGlyphs">180</text>
<line x1="628.1" y1="538.1" x2="628.1" y2="867.8" stroke="#ff0000" stroke-width="3.6"/>
<line x1="623.2" y1="859.00" x2="635.1" y2="859.00" stroke="#ff0000" stroke-width="3.7"/>
<text x="607.39" y="864.00" font-family="'Liberation Sans', sans-serif" font-size="16" font-weight="bold" fill="#ff0000" textLength="8.99" lengthAdjust="spacingAndGlyphs">0</text>
<line x1="623.2" y1="821.36" x2="635.1" y2="821.36" stroke="#ff0000" stroke-width="3.7"/>
<text x="589.41" y="826.36" font-family="'Liberation Sans', sans-serif" font-size="16" font-weight="bold" fill="#ff0000" textLength="26.98" lengthAdjust="spacingAndGlyphs">100</text>
<line x1="623.2" y1="783.72" x2="635.1" y2="783.72" stroke="#ff0000" stroke-width="3.7"/>
<text x="589.41" y="788.72" font-family="'Liberation Sans', sans-serif" font-size="16" font-weight="bold" fill="#ff0000" textLength="26.98" lengthAdjust="spacingAndGlyphs">200</text>
<line x1="623.2" y1="746.08" x2="635.1" y2="746.08" stroke="#ff0000" stroke-width="3.7"/>
<text x="589.41" y="751.08" font-family="'Liberation Sans', sans-serif" font-size="16" font-weight="bold" fill="#ff0000" textLength="26.98" lengthAdjust="spacingAndGlyphs">300</text>
<line x1="623.2" y1="708.44" x2="635.1" y2="708.44" stroke="#ff0000" stroke-width="3.7"/>
<text x="589.41" y="713.44" font-family="'Liberation Sans', sans-serif" font-size="16" font-weight="bold" fill="#ff0000" textLength="26.98" lengthAdjust="spacingAndGlyphs">400</text>
<line x1="623.2" y1="670.80" x2="635.1" y2="670.80" stroke="#ff0000" stroke-width="3.7"/>
<text x="589.41" y="675.80" font-family="'Liberation Sans', sans-serif" font-size="16" font-weight="bold" fill="#ff0000" textLength="26.98" lengthAdjust="spacingAndGlyphs">500</text>
<line x1="623.2" y1="633.16" x2="635.1" y2="633.16" stroke="#ff0000" stroke-width="3.7"/>
<text x="589.41" y="638.16" font-family="'Liberation Sans', sans-serif" font-size="16" font-weight="bold" fill="#ff0000" textLength="26.98" lengthAdjust="spacingAndGlyphs">600</text>
<line x1="623.2" y1="595.52" x2="635.1" y2="595.52" stroke="#ff0000" stroke-width="3.7"/>
<text x="589.41" y="600.52" font-family="'Liberation Sans', sans-serif" font-size="16" font-weight="bold" fill="#ff0000" textLength="26.98" lengthAdjust="spacingAndGlyphs">700</text>
<line x1="623.2" y1="557.88" x2="635.1" y2="557.88" stroke="#ff0000" stroke-width="3.7"/>
<text x="589.41" y="562.88" font-family="'Liberation Sans', sans-serif" font-size="16" font-weight="bold" fill="#ff0000" textLength="26.98" lengthAdjust="spacingAndGlyphs">800</text>
<line x1="628.1" y1="840.18" x2="631.3000000000001" y2="840.18" stroke="#ff0000" stroke-width="3"/>
<line x1="628.1" y1="802.54" x2="631.3000000000001" y2="802.54" stroke="#ff0000" stroke-width="3"/>
<line x1="628.1" y1="764.90" x2="631.3000000000001" y2="764.90" stroke="#ff0000" stroke-width="3"/>
<line x1="628.1" y1="727.26" x2="631.3000000000001" y2="727.26" stroke="#ff0000" stroke-width="3"/>
<line x1="628.1" y1="689.62" x2="631.3000000000001" y2="689.62" stroke="#ff0000" stroke-width="3"/>
<line x1="628.1" y1="651.98" x2="631.3000000000001" y2="651.98" stroke="#ff0000" stroke-width="3"/>
<line x1="628.1" y1="614.34" x2="631.3000000000001" y2="614.34" stroke="#ff0000" stroke-width="3"/>
<line x1="628.1" y1="576.70" x2="631.3000000000001" y2="576.70" stroke="#ff0000" stroke-width="3"/>
<line x1="1032" y1="538.1" x2="1032" y2="867.8" stroke="#0000ff" stroke-width="3.4"/>
<line x1="1026.2" y1="864.30" x2="1032" y2="864.30" stroke="#0000ff" stroke-width="3.4"/>
<text x="1038.08" y="869.30" font-family="'Liberation Sans', sans-serif" font-size="16" font-weight="bold" fill="#0000ff" textLength="9.59" lengthAdjust="spacingAndGlyphs">0</text>
<line x1="1026.2" y1="788.04" x2="1032" y2="788.04" stroke="#0000ff" stroke-width="3.4"/>
<text x="1038.08" y="793.04" font-family="'Liberation Sans', sans-serif" font-size="16" font-weight="bold" fill="#0000ff" textLength="28.77" lengthAdjust="spacingAndGlyphs">200</text>
<line x1="1026.2" y1="711.78" x2="1032" y2="711.78" stroke="#0000ff" stroke-width="3.4"/>
<text x="1038.43" y="716.78" font-family="'Liberation Sans', sans-serif" font-size="16" font-weight="bold" fill="#0000ff" textLength="28.77" lengthAdjust="spacingAndGlyphs">400</text>
<line x1="1026.2" y1="635.52" x2="1032" y2="635.52" stroke="#0000ff" stroke-width="3.4"/>
<text x="1038.08" y="640.52" font-family="'Liberation Sans', sans-serif" font-size="16" font-weight="bold" fill="#0000ff" textLength="28.77" lengthAdjust="spacingAndGlyphs">600</text>
<line x1="1026.2" y1="559.26" x2="1032" y2="559.26" stroke="#0000ff" stroke-width="3.4"/>
<text x="1038.08" y="564.26" font-family="'Liberation Sans', sans-serif" font-size="16" font-weight="bold" fill="#0000ff" textLength="28.77" lengthAdjust="spacingAndGlyphs">800</text>
<line x1="1027.5" y1="826.17" x2="1032" y2="826.17" stroke="#0000ff" stroke-width="3"/>
<line x1="1027.5" y1="749.91" x2="1032" y2="749.91" stroke="#0000ff" stroke-width="3"/>
<line x1="1027.5" y1="673.65" x2="1032" y2="673.65" stroke="#0000ff" stroke-width="3"/>
<line x1="1027.5" y1="597.39" x2="1032" y2="597.39" stroke="#0000ff" stroke-width="3"/>
<line x1="626.3000000000001" y1="539.9" x2="1033.7" y2="539.9" stroke="#000" stroke-width="3.6"/>
<line x1="848.1" y1="555.60" x2="887.1" y2="555.60" stroke="#ff0000" stroke-width="2.9"/>
<line x1="848.1" y1="580.00" x2="887.1" y2="580.00" stroke="#e8474a" stroke-width="2.9" stroke-dasharray="10,4.6"/>
<line x1="848.1" y1="604.40" x2="887.1" y2="604.40" stroke="#000" stroke-width="2.9"/>
<line x1="848.1" y1="628.80" x2="887.1" y2="628.80" stroke="#0000ff" stroke-width="2.9"/>
<text x="892.75" y="562.80" font-family="'Liberation Sans', sans-serif" font-size="17" font-weight="bold" fill="#ff0000" textLength="38.91" lengthAdjust="spacingAndGlyphs">MoO</text>
<text x="932.07" y="566.60" font-family="'Liberation Sans', sans-serif" font-size="11.5" font-weight="bold" fill="#ff0000" textLength="6.34" lengthAdjust="spacingAndGlyphs">3</text>
<text x="892.75" y="587.20" font-family="'Liberation Sans', sans-serif" font-size="17" font-weight="bold" fill="#ff0000" textLength="38.91" lengthAdjust="spacingAndGlyphs">MoO</text>
<text x="932.07" y="591.00" font-family="'Liberation Sans', sans-serif" font-size="11.5" font-weight="bold" fill="#ff0000" textLength="6.34" lengthAdjust="spacingAndGlyphs">3</text>
<text x="938.04" y="587.20" font-family="'Liberation Sans', sans-serif" font-size="17" font-weight="bold" fill="#ff0000" textLength="93.08" lengthAdjust="spacingAndGlyphs">(for metal)</text>
<text x="893.20" y="611.60" font-family="'Liberation Sans', sans-serif" font-size="17" font-weight="bold" fill="#000" textLength="9.84" lengthAdjust="spacingAndGlyphs">S</text>
<text x="893.47" y="636.00" font-family="'Liberation Sans', sans-serif" font-size="17" font-weight="bold" fill="#0000ff" textLength="56.30" lengthAdjust="spacingAndGlyphs">Ar flow</text>
<g transform="translate(0,550.3) scale(1,1.1) translate(0,-550.3)">
<text x="554.82" y="550.30" font-family="'Liberation Serif', serif" font-size="24" font-weight="bold" fill="#000" textLength="32.94" lengthAdjust="spacingAndGlyphs">(d)</text>
</g>
<text x="752.62" y="919.70" font-family="'Liberation Sans', sans-serif" font-size="27.5" font-weight="bold" fill="#000" textLength="197.88" lengthAdjust="spacingAndGlyphs">Time (minutes)</text>
<text x="-738.17" y="579.00" font-family="'Liberation Sans', sans-serif" font-size="26.5" font-weight="bold" fill="#ff0000" textLength="71.62" lengthAdjust="spacingAndGlyphs" transform="rotate(-90)">T (°C)</text>
<text x="-743.14" y="1090.00" font-family="'Liberation Sans', sans-serif" font-size="26.5" font-weight="bold" fill="#0000ff" textLength="124.50" lengthAdjust="spacingAndGlyphs" transform="rotate(-90)">Ar (sccm)</text>
</svg>
</body></html>
